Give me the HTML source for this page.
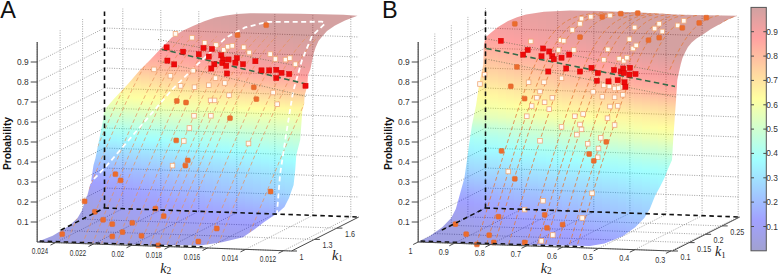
<!DOCTYPE html><html><head><meta charset="utf-8"><style>html,body{margin:0;padding:0;background:#fff;width:778px;height:276px;overflow:hidden}svg{display:block}</style></head><body><svg width="778" height="276" viewBox="0 0 778 276">
<style>.tk{font-family:"Liberation Sans",sans-serif;font-size:8.4px;fill:#333}</style>
<rect width="778" height="276" fill="#fff"/>
<line x1="37.2" y1="222.0" x2="104.5" y2="188.0" stroke="#8a8a8a" stroke-width="0.8" stroke-dasharray="1 1.4"/>
<line x1="104.5" y1="188.0" x2="358.8" y2="197.0" stroke="#8a8a8a" stroke-width="0.8" stroke-dasharray="1 1.4"/>
<line x1="37.2" y1="202.0" x2="104.5" y2="168.0" stroke="#8a8a8a" stroke-width="0.8" stroke-dasharray="1 1.4"/>
<line x1="104.5" y1="168.0" x2="358.8" y2="177.0" stroke="#8a8a8a" stroke-width="0.8" stroke-dasharray="1 1.4"/>
<line x1="37.2" y1="182.0" x2="104.5" y2="148.0" stroke="#8a8a8a" stroke-width="0.8" stroke-dasharray="1 1.4"/>
<line x1="104.5" y1="148.0" x2="358.8" y2="157.0" stroke="#8a8a8a" stroke-width="0.8" stroke-dasharray="1 1.4"/>
<line x1="37.2" y1="162.0" x2="104.5" y2="128.0" stroke="#8a8a8a" stroke-width="0.8" stroke-dasharray="1 1.4"/>
<line x1="104.5" y1="128.0" x2="358.8" y2="137.0" stroke="#8a8a8a" stroke-width="0.8" stroke-dasharray="1 1.4"/>
<line x1="37.2" y1="142.0" x2="104.5" y2="108.0" stroke="#8a8a8a" stroke-width="0.8" stroke-dasharray="1 1.4"/>
<line x1="104.5" y1="108.0" x2="358.8" y2="117.0" stroke="#8a8a8a" stroke-width="0.8" stroke-dasharray="1 1.4"/>
<line x1="37.2" y1="122.0" x2="104.5" y2="88.0" stroke="#8a8a8a" stroke-width="0.8" stroke-dasharray="1 1.4"/>
<line x1="104.5" y1="88.0" x2="358.8" y2="97.0" stroke="#8a8a8a" stroke-width="0.8" stroke-dasharray="1 1.4"/>
<line x1="37.2" y1="102.0" x2="104.5" y2="68.0" stroke="#8a8a8a" stroke-width="0.8" stroke-dasharray="1 1.4"/>
<line x1="104.5" y1="68.0" x2="358.8" y2="77.0" stroke="#8a8a8a" stroke-width="0.8" stroke-dasharray="1 1.4"/>
<line x1="37.2" y1="82.0" x2="104.5" y2="48.0" stroke="#8a8a8a" stroke-width="0.8" stroke-dasharray="1 1.4"/>
<line x1="104.5" y1="48.0" x2="358.8" y2="57.0" stroke="#8a8a8a" stroke-width="0.8" stroke-dasharray="1 1.4"/>
<line x1="37.2" y1="62.0" x2="104.5" y2="28.0" stroke="#8a8a8a" stroke-width="0.8" stroke-dasharray="1 1.4"/>
<line x1="104.5" y1="28.0" x2="358.8" y2="37.0" stroke="#8a8a8a" stroke-width="0.8" stroke-dasharray="1 1.4"/>
<line x1="37.2" y1="242.0" x2="37.2" y2="42.0" stroke="#8a8a8a" stroke-width="0.8" stroke-dasharray="1 1.4"/>
<line x1="37.2" y1="242.0" x2="291.5" y2="251.0" stroke="#8a8a8a" stroke-width="0.8" stroke-dasharray="1 1.4"/>
<line x1="60.1" y1="230.4" x2="60.1" y2="30.4" stroke="#8a8a8a" stroke-width="0.8" stroke-dasharray="1 1.4"/>
<line x1="60.1" y1="230.4" x2="314.4" y2="239.4" stroke="#8a8a8a" stroke-width="0.8" stroke-dasharray="1 1.4"/>
<line x1="82.6" y1="219.1" x2="82.6" y2="19.1" stroke="#8a8a8a" stroke-width="0.8" stroke-dasharray="1 1.4"/>
<line x1="82.6" y1="219.1" x2="336.9" y2="228.1" stroke="#8a8a8a" stroke-width="0.8" stroke-dasharray="1 1.4"/>
<line x1="122.8" y1="208.6" x2="122.8" y2="8.6" stroke="#8a8a8a" stroke-width="0.8" stroke-dasharray="1 1.4"/>
<line x1="55.5" y1="242.6" x2="122.8" y2="208.6" stroke="#8a8a8a" stroke-width="0.8" stroke-dasharray="1 1.4"/>
<line x1="160.8" y1="210.0" x2="160.8" y2="10.0" stroke="#8a8a8a" stroke-width="0.8" stroke-dasharray="1 1.4"/>
<line x1="93.5" y1="244.0" x2="160.8" y2="210.0" stroke="#8a8a8a" stroke-width="0.8" stroke-dasharray="1 1.4"/>
<line x1="198.8" y1="211.3" x2="198.8" y2="11.3" stroke="#8a8a8a" stroke-width="0.8" stroke-dasharray="1 1.4"/>
<line x1="131.5" y1="245.3" x2="198.8" y2="211.3" stroke="#8a8a8a" stroke-width="0.8" stroke-dasharray="1 1.4"/>
<line x1="236.8" y1="212.7" x2="236.8" y2="12.7" stroke="#8a8a8a" stroke-width="0.8" stroke-dasharray="1 1.4"/>
<line x1="169.5" y1="246.7" x2="236.8" y2="212.7" stroke="#8a8a8a" stroke-width="0.8" stroke-dasharray="1 1.4"/>
<line x1="274.8" y1="214.0" x2="274.8" y2="14.0" stroke="#8a8a8a" stroke-width="0.8" stroke-dasharray="1 1.4"/>
<line x1="207.5" y1="248.0" x2="274.8" y2="214.0" stroke="#8a8a8a" stroke-width="0.8" stroke-dasharray="1 1.4"/>
<line x1="312.8" y1="215.4" x2="312.8" y2="15.4" stroke="#8a8a8a" stroke-width="0.8" stroke-dasharray="1 1.4"/>
<line x1="245.5" y1="249.4" x2="312.8" y2="215.4" stroke="#8a8a8a" stroke-width="0.8" stroke-dasharray="1 1.4"/>
<line x1="350.8" y1="216.7" x2="350.8" y2="16.7" stroke="#8a8a8a" stroke-width="0.8" stroke-dasharray="1 1.4"/>
<line x1="283.5" y1="250.7" x2="350.8" y2="216.7" stroke="#8a8a8a" stroke-width="0.8" stroke-dasharray="1 1.4"/>
<defs><clipPath id="cA"><polygon points="37.0,242.0 52.7,235.8 69.2,225.7 77.6,218.0 81.9,210.5 85.2,200.3 87.5,195.0 91.3,180.0 93.5,165.0 95.5,158.0 103.1,120.0 104.3,110.0 113.8,99.0 127.5,84.5 140.0,70.0 150.5,59.5 160.9,48.5 171.7,37.6 182.6,30.7 193.5,25.7 204.3,21.3 215.2,17.6 226.0,15.4 237.0,14.1 250.0,13.3 300.0,13.7 343.5,14.8 357.5,15.8 345.0,20.5 335.0,25.5 327.0,31.0 322.6,35.9 318.5,41.0 315.5,47.8 313.5,54.0 312.3,60.0 310.3,69.5 308.0,75.0 307.4,86.0 304.7,95.0 304.0,105.0 302.4,110.0 301.3,125.0 300.2,140.0 296.3,155.0 295.2,170.0 293.6,185.0 289.0,198.0 284.4,207.0 277.0,213.5 264.5,221.7 253.6,230.0 243.0,237.2 222.0,242.3 200.0,245.4 150.0,245.0 100.0,243.5"/></clipPath></defs>
<defs><linearGradient id="sA0" gradientUnits="userSpaceOnUse" x1="0" y1="13" x2="0" y2="246"><stop offset="0" stop-color="#cf0000"/><stop offset="0.0455" stop-color="#eb0000"/><stop offset="0.0909" stop-color="#ff0100"/><stop offset="0.136" stop-color="#ff1c00"/><stop offset="0.182" stop-color="#ff3c00"/><stop offset="0.227" stop-color="#ff7b00"/><stop offset="0.273" stop-color="#ffcb00"/><stop offset="0.318" stop-color="#fcff03"/><stop offset="0.364" stop-color="#d1ff2e"/><stop offset="0.409" stop-color="#9fff60"/><stop offset="0.455" stop-color="#57ffa8"/><stop offset="0.5" stop-color="#0efff1"/><stop offset="0.545" stop-color="#00c9ff"/><stop offset="0.591" stop-color="#0086ff"/><stop offset="0.636" stop-color="#0051ff"/><stop offset="0.682" stop-color="#001bff"/><stop offset="0.727" stop-color="#0000ee"/><stop offset="0.773" stop-color="#0000ca"/><stop offset="0.818" stop-color="#0000b6"/><stop offset="0.864" stop-color="#0000b6"/><stop offset="0.909" stop-color="#0000b2"/><stop offset="0.955" stop-color="#0000b2"/><stop offset="1" stop-color="#0000b2"/></linearGradient><linearGradient id="sA1" gradientUnits="userSpaceOnUse" x1="0" y1="13" x2="0" y2="246"><stop offset="0" stop-color="#cf0000"/><stop offset="0.0455" stop-color="#eb0000"/><stop offset="0.0909" stop-color="#ff0100"/><stop offset="0.136" stop-color="#ff1c00"/><stop offset="0.182" stop-color="#ff3c00"/><stop offset="0.227" stop-color="#ff7b00"/><stop offset="0.273" stop-color="#ffcb00"/><stop offset="0.318" stop-color="#fcff03"/><stop offset="0.364" stop-color="#d1ff2e"/><stop offset="0.409" stop-color="#9fff60"/><stop offset="0.455" stop-color="#57ffa8"/><stop offset="0.5" stop-color="#0efff1"/><stop offset="0.545" stop-color="#00c9ff"/><stop offset="0.591" stop-color="#0086ff"/><stop offset="0.636" stop-color="#0051ff"/><stop offset="0.682" stop-color="#001bff"/><stop offset="0.727" stop-color="#0000ee"/><stop offset="0.773" stop-color="#0000ca"/><stop offset="0.818" stop-color="#0000b6"/><stop offset="0.864" stop-color="#0000b6"/><stop offset="0.909" stop-color="#0000b2"/><stop offset="0.955" stop-color="#0000b2"/><stop offset="1" stop-color="#0000b2"/></linearGradient><linearGradient id="sA2" gradientUnits="userSpaceOnUse" x1="0" y1="13" x2="0" y2="246"><stop offset="0" stop-color="#cf0000"/><stop offset="0.0455" stop-color="#eb0000"/><stop offset="0.0909" stop-color="#ff0100"/><stop offset="0.136" stop-color="#ff1c00"/><stop offset="0.182" stop-color="#ff3c00"/><stop offset="0.227" stop-color="#ff7b00"/><stop offset="0.273" stop-color="#ffcb00"/><stop offset="0.318" stop-color="#fcff03"/><stop offset="0.364" stop-color="#d1ff2e"/><stop offset="0.409" stop-color="#9fff60"/><stop offset="0.455" stop-color="#57ffa8"/><stop offset="0.5" stop-color="#0efff1"/><stop offset="0.545" stop-color="#00c9ff"/><stop offset="0.591" stop-color="#0086ff"/><stop offset="0.636" stop-color="#0051ff"/><stop offset="0.682" stop-color="#001bff"/><stop offset="0.727" stop-color="#0000ee"/><stop offset="0.773" stop-color="#0000ca"/><stop offset="0.818" stop-color="#0000b6"/><stop offset="0.864" stop-color="#0000b6"/><stop offset="0.909" stop-color="#0000b2"/><stop offset="0.955" stop-color="#0000b2"/><stop offset="1" stop-color="#0000b2"/></linearGradient><linearGradient id="sA3" gradientUnits="userSpaceOnUse" x1="0" y1="13" x2="0" y2="246"><stop offset="0" stop-color="#cf0000"/><stop offset="0.0455" stop-color="#eb0000"/><stop offset="0.0909" stop-color="#ff0100"/><stop offset="0.136" stop-color="#ff1c00"/><stop offset="0.182" stop-color="#ff3c00"/><stop offset="0.227" stop-color="#ff7b00"/><stop offset="0.273" stop-color="#ffcb00"/><stop offset="0.318" stop-color="#fcff03"/><stop offset="0.364" stop-color="#d1ff2e"/><stop offset="0.409" stop-color="#9fff60"/><stop offset="0.455" stop-color="#57ffa8"/><stop offset="0.5" stop-color="#0efff1"/><stop offset="0.545" stop-color="#00c9ff"/><stop offset="0.591" stop-color="#0086ff"/><stop offset="0.636" stop-color="#0051ff"/><stop offset="0.682" stop-color="#001bff"/><stop offset="0.727" stop-color="#0000ee"/><stop offset="0.773" stop-color="#0000ca"/><stop offset="0.818" stop-color="#0000b6"/><stop offset="0.864" stop-color="#0000b6"/><stop offset="0.909" stop-color="#0000b2"/><stop offset="0.955" stop-color="#0000b2"/><stop offset="1" stop-color="#0000b2"/></linearGradient><linearGradient id="sA4" gradientUnits="userSpaceOnUse" x1="0" y1="13" x2="0" y2="246"><stop offset="0" stop-color="#cf0000"/><stop offset="0.0455" stop-color="#eb0000"/><stop offset="0.0909" stop-color="#ff0100"/><stop offset="0.136" stop-color="#ff1c00"/><stop offset="0.182" stop-color="#ff3c00"/><stop offset="0.227" stop-color="#ff7b00"/><stop offset="0.273" stop-color="#ffcb00"/><stop offset="0.318" stop-color="#fcff03"/><stop offset="0.364" stop-color="#d1ff2e"/><stop offset="0.409" stop-color="#9fff60"/><stop offset="0.455" stop-color="#57ffa8"/><stop offset="0.5" stop-color="#0efff1"/><stop offset="0.545" stop-color="#00c9ff"/><stop offset="0.591" stop-color="#0086ff"/><stop offset="0.636" stop-color="#0051ff"/><stop offset="0.682" stop-color="#001bff"/><stop offset="0.727" stop-color="#0000ee"/><stop offset="0.773" stop-color="#0000ca"/><stop offset="0.818" stop-color="#0000b6"/><stop offset="0.864" stop-color="#0000b6"/><stop offset="0.909" stop-color="#0000b2"/><stop offset="0.955" stop-color="#0000b2"/><stop offset="1" stop-color="#0000b2"/></linearGradient><linearGradient id="sA5" gradientUnits="userSpaceOnUse" x1="0" y1="13" x2="0" y2="246"><stop offset="0" stop-color="#cd0000"/><stop offset="0.0455" stop-color="#e80000"/><stop offset="0.0909" stop-color="#fe0000"/><stop offset="0.136" stop-color="#ff1900"/><stop offset="0.182" stop-color="#ff3900"/><stop offset="0.227" stop-color="#ff7700"/><stop offset="0.273" stop-color="#ffc700"/><stop offset="0.318" stop-color="#fffd00"/><stop offset="0.364" stop-color="#d5ff2a"/><stop offset="0.409" stop-color="#a2ff5d"/><stop offset="0.455" stop-color="#5affa5"/><stop offset="0.5" stop-color="#11ffee"/><stop offset="0.545" stop-color="#00cdff"/><stop offset="0.591" stop-color="#008aff"/><stop offset="0.636" stop-color="#0055ff"/><stop offset="0.682" stop-color="#001fff"/><stop offset="0.727" stop-color="#0000f3"/><stop offset="0.773" stop-color="#0000cf"/><stop offset="0.818" stop-color="#0000ba"/><stop offset="0.864" stop-color="#0000b9"/><stop offset="0.909" stop-color="#0000b2"/><stop offset="0.955" stop-color="#0000b2"/><stop offset="1" stop-color="#0000b2"/></linearGradient><linearGradient id="sA6" gradientUnits="userSpaceOnUse" x1="0" y1="13" x2="0" y2="246"><stop offset="0" stop-color="#ca0000"/><stop offset="0.0455" stop-color="#e40000"/><stop offset="0.0909" stop-color="#fa0000"/><stop offset="0.136" stop-color="#ff1400"/><stop offset="0.182" stop-color="#ff3400"/><stop offset="0.227" stop-color="#ff7200"/><stop offset="0.273" stop-color="#ffbf00"/><stop offset="0.318" stop-color="#fff700"/><stop offset="0.364" stop-color="#daff25"/><stop offset="0.409" stop-color="#a6ff59"/><stop offset="0.455" stop-color="#5fffa0"/><stop offset="0.5" stop-color="#16ffe9"/><stop offset="0.545" stop-color="#00d2ff"/><stop offset="0.591" stop-color="#0090ff"/><stop offset="0.636" stop-color="#005bff"/><stop offset="0.682" stop-color="#0025ff"/><stop offset="0.727" stop-color="#0000fa"/><stop offset="0.773" stop-color="#0000d6"/><stop offset="0.818" stop-color="#0000c0"/><stop offset="0.864" stop-color="#0000bd"/><stop offset="0.909" stop-color="#0000b5"/><stop offset="0.955" stop-color="#0000b2"/><stop offset="1" stop-color="#0000b2"/></linearGradient><linearGradient id="sA7" gradientUnits="userSpaceOnUse" x1="0" y1="13" x2="0" y2="246"><stop offset="0" stop-color="#c70000"/><stop offset="0.0455" stop-color="#e00000"/><stop offset="0.0909" stop-color="#f50000"/><stop offset="0.136" stop-color="#ff1000"/><stop offset="0.182" stop-color="#ff3000"/><stop offset="0.227" stop-color="#ff6c00"/><stop offset="0.273" stop-color="#ffb800"/><stop offset="0.318" stop-color="#fff000"/><stop offset="0.364" stop-color="#dfff20"/><stop offset="0.409" stop-color="#aaff55"/><stop offset="0.455" stop-color="#63ff9c"/><stop offset="0.5" stop-color="#1bffe4"/><stop offset="0.545" stop-color="#00d8ff"/><stop offset="0.591" stop-color="#0096ff"/><stop offset="0.636" stop-color="#0062ff"/><stop offset="0.682" stop-color="#002cff"/><stop offset="0.727" stop-color="#0002ff"/><stop offset="0.773" stop-color="#0000dd"/><stop offset="0.818" stop-color="#0000c7"/><stop offset="0.864" stop-color="#0000c2"/><stop offset="0.909" stop-color="#0000b9"/><stop offset="0.955" stop-color="#0000b2"/><stop offset="1" stop-color="#0000b2"/></linearGradient><linearGradient id="sA8" gradientUnits="userSpaceOnUse" x1="0" y1="13" x2="0" y2="246"><stop offset="0" stop-color="#c30000"/><stop offset="0.0455" stop-color="#db0000"/><stop offset="0.0909" stop-color="#f10000"/><stop offset="0.136" stop-color="#ff0c00"/><stop offset="0.182" stop-color="#ff2b00"/><stop offset="0.227" stop-color="#ff6600"/><stop offset="0.273" stop-color="#ffb100"/><stop offset="0.318" stop-color="#ffe900"/><stop offset="0.364" stop-color="#e5ff1a"/><stop offset="0.409" stop-color="#aeff51"/><stop offset="0.455" stop-color="#68ff97"/><stop offset="0.5" stop-color="#21ffde"/><stop offset="0.545" stop-color="#00deff"/><stop offset="0.591" stop-color="#009cff"/><stop offset="0.636" stop-color="#0068ff"/><stop offset="0.682" stop-color="#0033ff"/><stop offset="0.727" stop-color="#0009ff"/><stop offset="0.773" stop-color="#0000e5"/><stop offset="0.818" stop-color="#0000cd"/><stop offset="0.864" stop-color="#0000c6"/><stop offset="0.909" stop-color="#0000bc"/><stop offset="0.955" stop-color="#0000b2"/><stop offset="1" stop-color="#0000b2"/></linearGradient><linearGradient id="sA9" gradientUnits="userSpaceOnUse" x1="0" y1="13" x2="0" y2="246"><stop offset="0" stop-color="#c00000"/><stop offset="0.0455" stop-color="#d70000"/><stop offset="0.0909" stop-color="#ed0000"/><stop offset="0.136" stop-color="#ff0700"/><stop offset="0.182" stop-color="#ff2600"/><stop offset="0.227" stop-color="#ff6000"/><stop offset="0.273" stop-color="#ffaa00"/><stop offset="0.318" stop-color="#ffe300"/><stop offset="0.364" stop-color="#eaff15"/><stop offset="0.409" stop-color="#b3ff4c"/><stop offset="0.455" stop-color="#6cff93"/><stop offset="0.5" stop-color="#26ffd9"/><stop offset="0.545" stop-color="#00e3ff"/><stop offset="0.591" stop-color="#00a2ff"/><stop offset="0.636" stop-color="#006eff"/><stop offset="0.682" stop-color="#0039ff"/><stop offset="0.727" stop-color="#0010ff"/><stop offset="0.773" stop-color="#0000ec"/><stop offset="0.818" stop-color="#0000d3"/><stop offset="0.864" stop-color="#0000ca"/><stop offset="0.909" stop-color="#0000bf"/><stop offset="0.955" stop-color="#0000b4"/><stop offset="1" stop-color="#0000b2"/></linearGradient><linearGradient id="sA10" gradientUnits="userSpaceOnUse" x1="0" y1="13" x2="0" y2="246"><stop offset="0" stop-color="#bc0000"/><stop offset="0.0455" stop-color="#d30000"/><stop offset="0.0909" stop-color="#e90000"/><stop offset="0.136" stop-color="#ff0300"/><stop offset="0.182" stop-color="#ff2100"/><stop offset="0.227" stop-color="#ff5a00"/><stop offset="0.273" stop-color="#ffa300"/><stop offset="0.318" stop-color="#ffdc00"/><stop offset="0.364" stop-color="#efff10"/><stop offset="0.409" stop-color="#b7ff48"/><stop offset="0.455" stop-color="#71ff8e"/><stop offset="0.5" stop-color="#2bffd4"/><stop offset="0.545" stop-color="#00e9ff"/><stop offset="0.591" stop-color="#00a8ff"/><stop offset="0.636" stop-color="#0074ff"/><stop offset="0.682" stop-color="#0040ff"/><stop offset="0.727" stop-color="#0018ff"/><stop offset="0.773" stop-color="#0000f4"/><stop offset="0.818" stop-color="#0000da"/><stop offset="0.864" stop-color="#0000cf"/><stop offset="0.909" stop-color="#0000c2"/><stop offset="0.955" stop-color="#0000b6"/><stop offset="1" stop-color="#0000b2"/></linearGradient><linearGradient id="sA11" gradientUnits="userSpaceOnUse" x1="0" y1="13" x2="0" y2="246"><stop offset="0" stop-color="#b90000"/><stop offset="0.0455" stop-color="#cf0000"/><stop offset="0.0909" stop-color="#e40000"/><stop offset="0.136" stop-color="#fd0000"/><stop offset="0.182" stop-color="#ff1c00"/><stop offset="0.227" stop-color="#ff5400"/><stop offset="0.273" stop-color="#ff9c00"/><stop offset="0.318" stop-color="#ffd500"/><stop offset="0.364" stop-color="#f5ff0a"/><stop offset="0.409" stop-color="#bbff44"/><stop offset="0.455" stop-color="#75ff8a"/><stop offset="0.5" stop-color="#30ffcf"/><stop offset="0.545" stop-color="#00eeff"/><stop offset="0.591" stop-color="#00aeff"/><stop offset="0.636" stop-color="#007bff"/><stop offset="0.682" stop-color="#0047ff"/><stop offset="0.727" stop-color="#001fff"/><stop offset="0.773" stop-color="#0000fb"/><stop offset="0.818" stop-color="#0000e0"/><stop offset="0.864" stop-color="#0000d3"/><stop offset="0.909" stop-color="#0000c5"/><stop offset="0.955" stop-color="#0000b8"/><stop offset="1" stop-color="#0000b2"/></linearGradient><linearGradient id="sA12" gradientUnits="userSpaceOnUse" x1="0" y1="13" x2="0" y2="246"><stop offset="0" stop-color="#b60000"/><stop offset="0.0455" stop-color="#cb0000"/><stop offset="0.0909" stop-color="#e00000"/><stop offset="0.136" stop-color="#f90000"/><stop offset="0.182" stop-color="#ff1700"/><stop offset="0.227" stop-color="#ff4e00"/><stop offset="0.273" stop-color="#ff9500"/><stop offset="0.318" stop-color="#ffcf00"/><stop offset="0.364" stop-color="#faff05"/><stop offset="0.409" stop-color="#bfff40"/><stop offset="0.455" stop-color="#7aff85"/><stop offset="0.5" stop-color="#36ffc9"/><stop offset="0.545" stop-color="#00f4ff"/><stop offset="0.591" stop-color="#00b4ff"/><stop offset="0.636" stop-color="#0081ff"/><stop offset="0.682" stop-color="#004dff"/><stop offset="0.727" stop-color="#0026ff"/><stop offset="0.773" stop-color="#0004ff"/><stop offset="0.818" stop-color="#0000e6"/><stop offset="0.864" stop-color="#0000d7"/><stop offset="0.909" stop-color="#0000c9"/><stop offset="0.955" stop-color="#0000ba"/><stop offset="1" stop-color="#0000b4"/></linearGradient><linearGradient id="sA13" gradientUnits="userSpaceOnUse" x1="0" y1="13" x2="0" y2="246"><stop offset="0" stop-color="#b20000"/><stop offset="0.0455" stop-color="#c60000"/><stop offset="0.0909" stop-color="#dc0000"/><stop offset="0.136" stop-color="#f40000"/><stop offset="0.182" stop-color="#ff1200"/><stop offset="0.227" stop-color="#ff4800"/><stop offset="0.273" stop-color="#ff8e00"/><stop offset="0.318" stop-color="#ffc800"/><stop offset="0.364" stop-color="#ffff00"/><stop offset="0.409" stop-color="#c4ff3b"/><stop offset="0.455" stop-color="#7eff81"/><stop offset="0.5" stop-color="#3bffc4"/><stop offset="0.545" stop-color="#00faff"/><stop offset="0.591" stop-color="#00bbff"/><stop offset="0.636" stop-color="#0087ff"/><stop offset="0.682" stop-color="#0054ff"/><stop offset="0.727" stop-color="#002dff"/><stop offset="0.773" stop-color="#000bff"/><stop offset="0.818" stop-color="#0000ed"/><stop offset="0.864" stop-color="#0000db"/><stop offset="0.909" stop-color="#0000cc"/><stop offset="0.955" stop-color="#0000bd"/><stop offset="1" stop-color="#0000b6"/></linearGradient><linearGradient id="sA14" gradientUnits="userSpaceOnUse" x1="0" y1="13" x2="0" y2="246"><stop offset="0" stop-color="#af0000"/><stop offset="0.0455" stop-color="#c20000"/><stop offset="0.0909" stop-color="#d80000"/><stop offset="0.136" stop-color="#f00000"/><stop offset="0.182" stop-color="#ff0d00"/><stop offset="0.227" stop-color="#ff4200"/><stop offset="0.273" stop-color="#ff8700"/><stop offset="0.318" stop-color="#ffc100"/><stop offset="0.364" stop-color="#fff900"/><stop offset="0.409" stop-color="#c8ff37"/><stop offset="0.455" stop-color="#83ff7c"/><stop offset="0.5" stop-color="#40ffbf"/><stop offset="0.545" stop-color="#00ffff"/><stop offset="0.591" stop-color="#00c1ff"/><stop offset="0.636" stop-color="#008dff"/><stop offset="0.682" stop-color="#005bff"/><stop offset="0.727" stop-color="#0034ff"/><stop offset="0.773" stop-color="#0013ff"/><stop offset="0.818" stop-color="#0000f3"/><stop offset="0.864" stop-color="#0000e0"/><stop offset="0.909" stop-color="#0000cf"/><stop offset="0.955" stop-color="#0000bf"/><stop offset="1" stop-color="#0000b8"/></linearGradient><linearGradient id="sA15" gradientUnits="userSpaceOnUse" x1="0" y1="13" x2="0" y2="246"><stop offset="0" stop-color="#ac0000"/><stop offset="0.0455" stop-color="#be0000"/><stop offset="0.0909" stop-color="#d30000"/><stop offset="0.136" stop-color="#ec0000"/><stop offset="0.182" stop-color="#ff0800"/><stop offset="0.227" stop-color="#ff3c00"/><stop offset="0.273" stop-color="#ff7f00"/><stop offset="0.318" stop-color="#ffbb00"/><stop offset="0.364" stop-color="#fff400"/><stop offset="0.409" stop-color="#ccff33"/><stop offset="0.455" stop-color="#87ff78"/><stop offset="0.5" stop-color="#45ffba"/><stop offset="0.545" stop-color="#06fff9"/><stop offset="0.591" stop-color="#00c7ff"/><stop offset="0.636" stop-color="#0094ff"/><stop offset="0.682" stop-color="#0061ff"/><stop offset="0.727" stop-color="#003cff"/><stop offset="0.773" stop-color="#001aff"/><stop offset="0.818" stop-color="#0000fa"/><stop offset="0.864" stop-color="#0000e4"/><stop offset="0.909" stop-color="#0000d2"/><stop offset="0.955" stop-color="#0000c1"/><stop offset="1" stop-color="#0000ba"/></linearGradient><linearGradient id="sA16" gradientUnits="userSpaceOnUse" x1="0" y1="13" x2="0" y2="246"><stop offset="0" stop-color="#a80000"/><stop offset="0.0455" stop-color="#ba0000"/><stop offset="0.0909" stop-color="#cf0000"/><stop offset="0.136" stop-color="#e70000"/><stop offset="0.182" stop-color="#ff0300"/><stop offset="0.227" stop-color="#ff3600"/><stop offset="0.273" stop-color="#ff7800"/><stop offset="0.318" stop-color="#ffb400"/><stop offset="0.364" stop-color="#ffef00"/><stop offset="0.409" stop-color="#d0ff2f"/><stop offset="0.455" stop-color="#8cff73"/><stop offset="0.5" stop-color="#4affb5"/><stop offset="0.545" stop-color="#0cfff3"/><stop offset="0.591" stop-color="#00cdff"/><stop offset="0.636" stop-color="#009aff"/><stop offset="0.682" stop-color="#0068ff"/><stop offset="0.727" stop-color="#0043ff"/><stop offset="0.773" stop-color="#0022ff"/><stop offset="0.818" stop-color="#0001ff"/><stop offset="0.864" stop-color="#0000e8"/><stop offset="0.909" stop-color="#0000d6"/><stop offset="0.955" stop-color="#0000c3"/><stop offset="1" stop-color="#0000bb"/></linearGradient><linearGradient id="sA17" gradientUnits="userSpaceOnUse" x1="0" y1="13" x2="0" y2="246"><stop offset="0" stop-color="#a50000"/><stop offset="0.0455" stop-color="#b50000"/><stop offset="0.0909" stop-color="#cb0000"/><stop offset="0.136" stop-color="#e30000"/><stop offset="0.182" stop-color="#fe0000"/><stop offset="0.227" stop-color="#ff3000"/><stop offset="0.273" stop-color="#ff7100"/><stop offset="0.318" stop-color="#ffad00"/><stop offset="0.364" stop-color="#ffea00"/><stop offset="0.409" stop-color="#d5ff2a"/><stop offset="0.455" stop-color="#90ff6f"/><stop offset="0.5" stop-color="#50ffaf"/><stop offset="0.545" stop-color="#11ffee"/><stop offset="0.591" stop-color="#00d3ff"/><stop offset="0.636" stop-color="#00a0ff"/><stop offset="0.682" stop-color="#006eff"/><stop offset="0.727" stop-color="#004aff"/><stop offset="0.773" stop-color="#0029ff"/><stop offset="0.818" stop-color="#0007ff"/><stop offset="0.864" stop-color="#0000ed"/><stop offset="0.909" stop-color="#0000d9"/><stop offset="0.955" stop-color="#0000c6"/><stop offset="1" stop-color="#0000bd"/></linearGradient><linearGradient id="sA18" gradientUnits="userSpaceOnUse" x1="0" y1="13" x2="0" y2="246"><stop offset="0" stop-color="#a10000"/><stop offset="0.0455" stop-color="#b10000"/><stop offset="0.0909" stop-color="#c70000"/><stop offset="0.136" stop-color="#de0000"/><stop offset="0.182" stop-color="#f90000"/><stop offset="0.227" stop-color="#ff2a00"/><stop offset="0.273" stop-color="#ff6a00"/><stop offset="0.318" stop-color="#ffa700"/><stop offset="0.364" stop-color="#ffe400"/><stop offset="0.409" stop-color="#d9ff26"/><stop offset="0.455" stop-color="#95ff6a"/><stop offset="0.5" stop-color="#55ffaa"/><stop offset="0.545" stop-color="#17ffe8"/><stop offset="0.591" stop-color="#00d9ff"/><stop offset="0.636" stop-color="#00a6ff"/><stop offset="0.682" stop-color="#0075ff"/><stop offset="0.727" stop-color="#0051ff"/><stop offset="0.773" stop-color="#0030ff"/><stop offset="0.818" stop-color="#000eff"/><stop offset="0.864" stop-color="#0000f1"/><stop offset="0.909" stop-color="#0000dc"/><stop offset="0.955" stop-color="#0000c8"/><stop offset="1" stop-color="#0000bf"/></linearGradient><linearGradient id="sA19" gradientUnits="userSpaceOnUse" x1="0" y1="13" x2="0" y2="246"><stop offset="0" stop-color="#9e0000"/><stop offset="0.0455" stop-color="#ad0000"/><stop offset="0.0909" stop-color="#c30000"/><stop offset="0.136" stop-color="#da0000"/><stop offset="0.182" stop-color="#f40000"/><stop offset="0.227" stop-color="#ff2400"/><stop offset="0.273" stop-color="#ff6300"/><stop offset="0.318" stop-color="#ffa000"/><stop offset="0.364" stop-color="#ffdf00"/><stop offset="0.409" stop-color="#ddff22"/><stop offset="0.455" stop-color="#99ff66"/><stop offset="0.5" stop-color="#5affa5"/><stop offset="0.545" stop-color="#1dffe2"/><stop offset="0.591" stop-color="#00dfff"/><stop offset="0.636" stop-color="#00adff"/><stop offset="0.682" stop-color="#007cff"/><stop offset="0.727" stop-color="#0058ff"/><stop offset="0.773" stop-color="#0038ff"/><stop offset="0.818" stop-color="#0014ff"/><stop offset="0.864" stop-color="#0000f5"/><stop offset="0.909" stop-color="#0000df"/><stop offset="0.955" stop-color="#0000ca"/><stop offset="1" stop-color="#0000c1"/></linearGradient><linearGradient id="sA20" gradientUnits="userSpaceOnUse" x1="0" y1="13" x2="0" y2="246"><stop offset="0" stop-color="#9b0000"/><stop offset="0.0455" stop-color="#a90000"/><stop offset="0.0909" stop-color="#be0000"/><stop offset="0.136" stop-color="#d50000"/><stop offset="0.182" stop-color="#ef0000"/><stop offset="0.227" stop-color="#ff1e00"/><stop offset="0.273" stop-color="#ff5c00"/><stop offset="0.318" stop-color="#ff9900"/><stop offset="0.364" stop-color="#ffda00"/><stop offset="0.409" stop-color="#e2ff1d"/><stop offset="0.455" stop-color="#9eff61"/><stop offset="0.5" stop-color="#5fffa0"/><stop offset="0.545" stop-color="#22ffdd"/><stop offset="0.591" stop-color="#00e5ff"/><stop offset="0.636" stop-color="#00b3ff"/><stop offset="0.682" stop-color="#0082ff"/><stop offset="0.727" stop-color="#0060ff"/><stop offset="0.773" stop-color="#003fff"/><stop offset="0.818" stop-color="#001bff"/><stop offset="0.864" stop-color="#0000fa"/><stop offset="0.909" stop-color="#0000e3"/><stop offset="0.955" stop-color="#0000cc"/><stop offset="1" stop-color="#0000c3"/></linearGradient><linearGradient id="sA21" gradientUnits="userSpaceOnUse" x1="0" y1="13" x2="0" y2="246"><stop offset="0" stop-color="#970000"/><stop offset="0.0455" stop-color="#a40000"/><stop offset="0.0909" stop-color="#ba0000"/><stop offset="0.136" stop-color="#d10000"/><stop offset="0.182" stop-color="#ea0000"/><stop offset="0.227" stop-color="#ff1800"/><stop offset="0.273" stop-color="#ff5500"/><stop offset="0.318" stop-color="#ff9300"/><stop offset="0.364" stop-color="#ffd400"/><stop offset="0.409" stop-color="#e6ff19"/><stop offset="0.455" stop-color="#a2ff5d"/><stop offset="0.5" stop-color="#64ff9b"/><stop offset="0.545" stop-color="#28ffd7"/><stop offset="0.591" stop-color="#00ebff"/><stop offset="0.636" stop-color="#00b9ff"/><stop offset="0.682" stop-color="#0089ff"/><stop offset="0.727" stop-color="#0067ff"/><stop offset="0.773" stop-color="#0047ff"/><stop offset="0.818" stop-color="#0021ff"/><stop offset="0.864" stop-color="#0000fe"/><stop offset="0.909" stop-color="#0000e6"/><stop offset="0.955" stop-color="#0000cf"/><stop offset="1" stop-color="#0000c4"/></linearGradient><linearGradient id="sA22" gradientUnits="userSpaceOnUse" x1="0" y1="13" x2="0" y2="246"><stop offset="0" stop-color="#940000"/><stop offset="0.0455" stop-color="#a00000"/><stop offset="0.0909" stop-color="#b60000"/><stop offset="0.136" stop-color="#cd0000"/><stop offset="0.182" stop-color="#e50000"/><stop offset="0.227" stop-color="#ff1200"/><stop offset="0.273" stop-color="#ff4e00"/><stop offset="0.318" stop-color="#ff8c00"/><stop offset="0.364" stop-color="#ffcf00"/><stop offset="0.409" stop-color="#eaff15"/><stop offset="0.455" stop-color="#a7ff58"/><stop offset="0.5" stop-color="#6aff95"/><stop offset="0.545" stop-color="#2effd1"/><stop offset="0.591" stop-color="#00f1ff"/><stop offset="0.636" stop-color="#00bfff"/><stop offset="0.682" stop-color="#0090ff"/><stop offset="0.727" stop-color="#006eff"/><stop offset="0.773" stop-color="#004eff"/><stop offset="0.818" stop-color="#0027ff"/><stop offset="0.864" stop-color="#0003ff"/><stop offset="0.909" stop-color="#0000e9"/><stop offset="0.955" stop-color="#0000d1"/><stop offset="1" stop-color="#0000c6"/></linearGradient><linearGradient id="sA23" gradientUnits="userSpaceOnUse" x1="0" y1="13" x2="0" y2="246"><stop offset="0" stop-color="#900000"/><stop offset="0.0455" stop-color="#9c0000"/><stop offset="0.0909" stop-color="#b20000"/><stop offset="0.136" stop-color="#c80000"/><stop offset="0.182" stop-color="#e00000"/><stop offset="0.227" stop-color="#ff0c00"/><stop offset="0.273" stop-color="#ff4700"/><stop offset="0.318" stop-color="#ff8500"/><stop offset="0.364" stop-color="#ffca00"/><stop offset="0.409" stop-color="#eeff11"/><stop offset="0.455" stop-color="#abff54"/><stop offset="0.5" stop-color="#6fff90"/><stop offset="0.545" stop-color="#33ffcc"/><stop offset="0.591" stop-color="#00f7ff"/><stop offset="0.636" stop-color="#00c6ff"/><stop offset="0.682" stop-color="#0096ff"/><stop offset="0.727" stop-color="#0075ff"/><stop offset="0.773" stop-color="#0056ff"/><stop offset="0.818" stop-color="#002eff"/><stop offset="0.864" stop-color="#0008ff"/><stop offset="0.909" stop-color="#0000ec"/><stop offset="0.955" stop-color="#0000d3"/><stop offset="1" stop-color="#0000c8"/></linearGradient><linearGradient id="sA24" gradientUnits="userSpaceOnUse" x1="0" y1="13" x2="0" y2="246"><stop offset="0" stop-color="#8d0000"/><stop offset="0.0455" stop-color="#980000"/><stop offset="0.0909" stop-color="#ad0000"/><stop offset="0.136" stop-color="#c40000"/><stop offset="0.182" stop-color="#db0000"/><stop offset="0.227" stop-color="#ff0600"/><stop offset="0.273" stop-color="#ff3f00"/><stop offset="0.318" stop-color="#ff7e00"/><stop offset="0.364" stop-color="#ffc400"/><stop offset="0.409" stop-color="#f3ff0c"/><stop offset="0.455" stop-color="#b0ff4f"/><stop offset="0.5" stop-color="#74ff8b"/><stop offset="0.545" stop-color="#39ffc6"/><stop offset="0.591" stop-color="#00fdff"/><stop offset="0.636" stop-color="#00ccff"/><stop offset="0.682" stop-color="#009dff"/><stop offset="0.727" stop-color="#007cff"/><stop offset="0.773" stop-color="#005dff"/><stop offset="0.818" stop-color="#0034ff"/><stop offset="0.864" stop-color="#000cff"/><stop offset="0.909" stop-color="#0000f0"/><stop offset="0.955" stop-color="#0000d5"/><stop offset="1" stop-color="#0000ca"/></linearGradient><linearGradient id="sA25" gradientUnits="userSpaceOnUse" x1="0" y1="13" x2="0" y2="246"><stop offset="0" stop-color="#8a0000"/><stop offset="0.0455" stop-color="#940000"/><stop offset="0.0909" stop-color="#a90000"/><stop offset="0.136" stop-color="#bf0000"/><stop offset="0.182" stop-color="#d60000"/><stop offset="0.227" stop-color="#ff0000"/><stop offset="0.273" stop-color="#ff3800"/><stop offset="0.318" stop-color="#ff7800"/><stop offset="0.364" stop-color="#ffbf00"/><stop offset="0.409" stop-color="#f7ff08"/><stop offset="0.455" stop-color="#b4ff4b"/><stop offset="0.5" stop-color="#79ff86"/><stop offset="0.545" stop-color="#3effc1"/><stop offset="0.591" stop-color="#04fffb"/><stop offset="0.636" stop-color="#00d2ff"/><stop offset="0.682" stop-color="#00a3ff"/><stop offset="0.727" stop-color="#0084ff"/><stop offset="0.773" stop-color="#0065ff"/><stop offset="0.818" stop-color="#003aff"/><stop offset="0.864" stop-color="#0010ff"/><stop offset="0.909" stop-color="#0000f3"/><stop offset="0.955" stop-color="#0000d7"/><stop offset="1" stop-color="#0000cc"/></linearGradient><linearGradient id="sA26" gradientUnits="userSpaceOnUse" x1="0" y1="13" x2="0" y2="246"><stop offset="0" stop-color="#8a0000"/><stop offset="0.0455" stop-color="#8f0000"/><stop offset="0.0909" stop-color="#a50000"/><stop offset="0.136" stop-color="#bb0000"/><stop offset="0.182" stop-color="#d10000"/><stop offset="0.227" stop-color="#f90000"/><stop offset="0.273" stop-color="#ff3100"/><stop offset="0.318" stop-color="#ff7100"/><stop offset="0.364" stop-color="#ffba00"/><stop offset="0.409" stop-color="#fbff04"/><stop offset="0.455" stop-color="#b9ff46"/><stop offset="0.5" stop-color="#7eff81"/><stop offset="0.545" stop-color="#44ffbb"/><stop offset="0.591" stop-color="#0afff5"/><stop offset="0.636" stop-color="#00d8ff"/><stop offset="0.682" stop-color="#00aaff"/><stop offset="0.727" stop-color="#008bff"/><stop offset="0.773" stop-color="#006cff"/><stop offset="0.818" stop-color="#0041ff"/><stop offset="0.864" stop-color="#0014ff"/><stop offset="0.909" stop-color="#0000f6"/><stop offset="0.955" stop-color="#0000da"/><stop offset="1" stop-color="#0000cd"/></linearGradient><linearGradient id="sA27" gradientUnits="userSpaceOnUse" x1="0" y1="13" x2="0" y2="246"><stop offset="0" stop-color="#8a0000"/><stop offset="0.0455" stop-color="#8b0000"/><stop offset="0.0909" stop-color="#a10000"/><stop offset="0.136" stop-color="#b60000"/><stop offset="0.182" stop-color="#cd0000"/><stop offset="0.227" stop-color="#f30000"/><stop offset="0.273" stop-color="#ff2a00"/><stop offset="0.318" stop-color="#ff6a00"/><stop offset="0.364" stop-color="#ffb400"/><stop offset="0.409" stop-color="#ffff00"/><stop offset="0.455" stop-color="#bdff42"/><stop offset="0.5" stop-color="#84ff7b"/><stop offset="0.545" stop-color="#4affb5"/><stop offset="0.591" stop-color="#10ffef"/><stop offset="0.636" stop-color="#00dfff"/><stop offset="0.682" stop-color="#00b1ff"/><stop offset="0.727" stop-color="#0092ff"/><stop offset="0.773" stop-color="#0073ff"/><stop offset="0.818" stop-color="#0047ff"/><stop offset="0.864" stop-color="#0019ff"/><stop offset="0.909" stop-color="#0000f9"/><stop offset="0.955" stop-color="#0000dc"/><stop offset="1" stop-color="#0000cf"/></linearGradient><linearGradient id="sA28" gradientUnits="userSpaceOnUse" x1="0" y1="13" x2="0" y2="246"><stop offset="0" stop-color="#8a0000"/><stop offset="0.0455" stop-color="#8a0000"/><stop offset="0.0909" stop-color="#9c0000"/><stop offset="0.136" stop-color="#b20000"/><stop offset="0.182" stop-color="#c80000"/><stop offset="0.227" stop-color="#ed0000"/><stop offset="0.273" stop-color="#ff2300"/><stop offset="0.318" stop-color="#ff6400"/><stop offset="0.364" stop-color="#ffaf00"/><stop offset="0.409" stop-color="#fffa00"/><stop offset="0.455" stop-color="#c2ff3d"/><stop offset="0.5" stop-color="#89ff76"/><stop offset="0.545" stop-color="#4fffb0"/><stop offset="0.591" stop-color="#16ffe9"/><stop offset="0.636" stop-color="#00e5ff"/><stop offset="0.682" stop-color="#00b7ff"/><stop offset="0.727" stop-color="#0099ff"/><stop offset="0.773" stop-color="#007bff"/><stop offset="0.818" stop-color="#004eff"/><stop offset="0.864" stop-color="#001dff"/><stop offset="0.909" stop-color="#0000fc"/><stop offset="0.955" stop-color="#0000de"/><stop offset="1" stop-color="#0000d1"/></linearGradient><linearGradient id="sA29" gradientUnits="userSpaceOnUse" x1="0" y1="13" x2="0" y2="246"><stop offset="0" stop-color="#8a0000"/><stop offset="0.0455" stop-color="#8a0000"/><stop offset="0.0909" stop-color="#980000"/><stop offset="0.136" stop-color="#ae0000"/><stop offset="0.182" stop-color="#c30000"/><stop offset="0.227" stop-color="#e70000"/><stop offset="0.273" stop-color="#ff1c00"/><stop offset="0.318" stop-color="#ff5d00"/><stop offset="0.364" stop-color="#ffaa00"/><stop offset="0.409" stop-color="#fff600"/><stop offset="0.455" stop-color="#c6ff39"/><stop offset="0.5" stop-color="#8eff71"/><stop offset="0.545" stop-color="#55ffaa"/><stop offset="0.591" stop-color="#1cffe3"/><stop offset="0.636" stop-color="#00ebff"/><stop offset="0.682" stop-color="#00beff"/><stop offset="0.727" stop-color="#00a0ff"/><stop offset="0.773" stop-color="#0082ff"/><stop offset="0.818" stop-color="#0054ff"/><stop offset="0.864" stop-color="#0021ff"/><stop offset="0.909" stop-color="#0001ff"/><stop offset="0.955" stop-color="#0000e0"/><stop offset="1" stop-color="#0000d3"/></linearGradient><linearGradient id="sA30" gradientUnits="userSpaceOnUse" x1="0" y1="13" x2="0" y2="246"><stop offset="0" stop-color="#8a0000"/><stop offset="0.0455" stop-color="#8a0000"/><stop offset="0.0909" stop-color="#940000"/><stop offset="0.136" stop-color="#a90000"/><stop offset="0.182" stop-color="#be0000"/><stop offset="0.227" stop-color="#e20000"/><stop offset="0.273" stop-color="#ff1500"/><stop offset="0.318" stop-color="#ff5600"/><stop offset="0.364" stop-color="#ffa400"/><stop offset="0.409" stop-color="#fff200"/><stop offset="0.455" stop-color="#cbff34"/><stop offset="0.5" stop-color="#93ff6c"/><stop offset="0.545" stop-color="#5bffa4"/><stop offset="0.591" stop-color="#22ffdd"/><stop offset="0.636" stop-color="#00f1ff"/><stop offset="0.682" stop-color="#00c5ff"/><stop offset="0.727" stop-color="#00a8ff"/><stop offset="0.773" stop-color="#008aff"/><stop offset="0.818" stop-color="#005aff"/><stop offset="0.864" stop-color="#0026ff"/><stop offset="0.909" stop-color="#0004ff"/><stop offset="0.955" stop-color="#0000e3"/><stop offset="1" stop-color="#0000d5"/></linearGradient><linearGradient id="sA31" gradientUnits="userSpaceOnUse" x1="0" y1="13" x2="0" y2="246"><stop offset="0" stop-color="#8a0000"/><stop offset="0.0455" stop-color="#8a0000"/><stop offset="0.0909" stop-color="#900000"/><stop offset="0.136" stop-color="#a50000"/><stop offset="0.182" stop-color="#b90000"/><stop offset="0.227" stop-color="#dc0000"/><stop offset="0.273" stop-color="#ff0e00"/><stop offset="0.318" stop-color="#ff5000"/><stop offset="0.364" stop-color="#ff9f00"/><stop offset="0.409" stop-color="#ffee00"/><stop offset="0.455" stop-color="#d0ff2f"/><stop offset="0.5" stop-color="#98ff67"/><stop offset="0.545" stop-color="#60ff9f"/><stop offset="0.591" stop-color="#29ffd6"/><stop offset="0.636" stop-color="#00f8ff"/><stop offset="0.682" stop-color="#00cbff"/><stop offset="0.727" stop-color="#00afff"/><stop offset="0.773" stop-color="#0091ff"/><stop offset="0.818" stop-color="#0061ff"/><stop offset="0.864" stop-color="#002aff"/><stop offset="0.909" stop-color="#0007ff"/><stop offset="0.955" stop-color="#0000e5"/><stop offset="1" stop-color="#0000d7"/></linearGradient><linearGradient id="sA32" gradientUnits="userSpaceOnUse" x1="0" y1="13" x2="0" y2="246"><stop offset="0" stop-color="#8a0000"/><stop offset="0.0455" stop-color="#8a0000"/><stop offset="0.0909" stop-color="#8c0000"/><stop offset="0.136" stop-color="#a00000"/><stop offset="0.182" stop-color="#b40000"/><stop offset="0.227" stop-color="#d60000"/><stop offset="0.273" stop-color="#ff0700"/><stop offset="0.318" stop-color="#ff4900"/><stop offset="0.364" stop-color="#ff9a00"/><stop offset="0.409" stop-color="#ffe900"/><stop offset="0.455" stop-color="#d4ff2b"/><stop offset="0.5" stop-color="#9eff61"/><stop offset="0.545" stop-color="#66ff99"/><stop offset="0.591" stop-color="#2fffd0"/><stop offset="0.636" stop-color="#00feff"/><stop offset="0.682" stop-color="#00d2ff"/><stop offset="0.727" stop-color="#00b6ff"/><stop offset="0.773" stop-color="#0099ff"/><stop offset="0.818" stop-color="#0067ff"/><stop offset="0.864" stop-color="#002eff"/><stop offset="0.909" stop-color="#000aff"/><stop offset="0.955" stop-color="#0000e7"/><stop offset="1" stop-color="#0000d8"/></linearGradient><linearGradient id="sA33" gradientUnits="userSpaceOnUse" x1="0" y1="13" x2="0" y2="246"><stop offset="0" stop-color="#8a0000"/><stop offset="0.0455" stop-color="#8a0000"/><stop offset="0.0909" stop-color="#8a0000"/><stop offset="0.136" stop-color="#9c0000"/><stop offset="0.182" stop-color="#af0000"/><stop offset="0.227" stop-color="#d00000"/><stop offset="0.273" stop-color="#fe0000"/><stop offset="0.318" stop-color="#ff4200"/><stop offset="0.364" stop-color="#ff9500"/><stop offset="0.409" stop-color="#ffe500"/><stop offset="0.455" stop-color="#d9ff26"/><stop offset="0.5" stop-color="#a3ff5c"/><stop offset="0.545" stop-color="#6cff93"/><stop offset="0.591" stop-color="#35ffca"/><stop offset="0.636" stop-color="#05fffa"/><stop offset="0.682" stop-color="#00d9ff"/><stop offset="0.727" stop-color="#00bdff"/><stop offset="0.773" stop-color="#00a0ff"/><stop offset="0.818" stop-color="#006eff"/><stop offset="0.864" stop-color="#0033ff"/><stop offset="0.909" stop-color="#000eff"/><stop offset="0.955" stop-color="#0000e9"/><stop offset="1" stop-color="#0000da"/></linearGradient><linearGradient id="sA34" gradientUnits="userSpaceOnUse" x1="0" y1="13" x2="0" y2="246"><stop offset="0" stop-color="#8a0000"/><stop offset="0.0455" stop-color="#8a0000"/><stop offset="0.0909" stop-color="#8a0000"/><stop offset="0.136" stop-color="#970000"/><stop offset="0.182" stop-color="#aa0000"/><stop offset="0.227" stop-color="#ca0000"/><stop offset="0.273" stop-color="#f70000"/><stop offset="0.318" stop-color="#ff3c00"/><stop offset="0.364" stop-color="#ff8f00"/><stop offset="0.409" stop-color="#ffe100"/><stop offset="0.455" stop-color="#ddff22"/><stop offset="0.5" stop-color="#a8ff57"/><stop offset="0.545" stop-color="#71ff8e"/><stop offset="0.591" stop-color="#3bffc4"/><stop offset="0.636" stop-color="#0bfff4"/><stop offset="0.682" stop-color="#00dfff"/><stop offset="0.727" stop-color="#00c4ff"/><stop offset="0.773" stop-color="#00a8ff"/><stop offset="0.818" stop-color="#0074ff"/><stop offset="0.864" stop-color="#0037ff"/><stop offset="0.909" stop-color="#0011ff"/><stop offset="0.955" stop-color="#0000ec"/><stop offset="1" stop-color="#0000dc"/></linearGradient><linearGradient id="sA35" gradientUnits="userSpaceOnUse" x1="0" y1="13" x2="0" y2="246"><stop offset="0" stop-color="#8a0000"/><stop offset="0.0455" stop-color="#8a0000"/><stop offset="0.0909" stop-color="#8a0000"/><stop offset="0.136" stop-color="#940000"/><stop offset="0.182" stop-color="#a70000"/><stop offset="0.227" stop-color="#c50000"/><stop offset="0.273" stop-color="#f20000"/><stop offset="0.318" stop-color="#ff3700"/><stop offset="0.364" stop-color="#ff8b00"/><stop offset="0.409" stop-color="#ffde00"/><stop offset="0.455" stop-color="#e0ff1f"/><stop offset="0.5" stop-color="#acff53"/><stop offset="0.545" stop-color="#76ff89"/><stop offset="0.591" stop-color="#3fffc0"/><stop offset="0.636" stop-color="#10ffef"/><stop offset="0.682" stop-color="#00e4ff"/><stop offset="0.727" stop-color="#00caff"/><stop offset="0.773" stop-color="#00adff"/><stop offset="0.818" stop-color="#0079ff"/><stop offset="0.864" stop-color="#003aff"/><stop offset="0.909" stop-color="#0013ff"/><stop offset="0.955" stop-color="#0000ed"/><stop offset="1" stop-color="#0000dd"/></linearGradient><linearGradient id="sA36" gradientUnits="userSpaceOnUse" x1="0" y1="13" x2="0" y2="246"><stop offset="0" stop-color="#8a0000"/><stop offset="0.0455" stop-color="#8a0000"/><stop offset="0.0909" stop-color="#8a0000"/><stop offset="0.136" stop-color="#940000"/><stop offset="0.182" stop-color="#a70000"/><stop offset="0.227" stop-color="#c50000"/><stop offset="0.273" stop-color="#f20000"/><stop offset="0.318" stop-color="#ff3700"/><stop offset="0.364" stop-color="#ff8b00"/><stop offset="0.409" stop-color="#ffde00"/><stop offset="0.455" stop-color="#e0ff1f"/><stop offset="0.5" stop-color="#acff53"/><stop offset="0.545" stop-color="#76ff89"/><stop offset="0.591" stop-color="#3fffc0"/><stop offset="0.636" stop-color="#10ffef"/><stop offset="0.682" stop-color="#00e4ff"/><stop offset="0.727" stop-color="#00caff"/><stop offset="0.773" stop-color="#00adff"/><stop offset="0.818" stop-color="#0079ff"/><stop offset="0.864" stop-color="#003aff"/><stop offset="0.909" stop-color="#0013ff"/><stop offset="0.955" stop-color="#0000ed"/><stop offset="1" stop-color="#0000dd"/></linearGradient><linearGradient id="sA37" gradientUnits="userSpaceOnUse" x1="0" y1="13" x2="0" y2="246"><stop offset="0" stop-color="#8a0000"/><stop offset="0.0455" stop-color="#8a0000"/><stop offset="0.0909" stop-color="#8a0000"/><stop offset="0.136" stop-color="#940000"/><stop offset="0.182" stop-color="#a70000"/><stop offset="0.227" stop-color="#c50000"/><stop offset="0.273" stop-color="#f20000"/><stop offset="0.318" stop-color="#ff3700"/><stop offset="0.364" stop-color="#ff8b00"/><stop offset="0.409" stop-color="#ffde00"/><stop offset="0.455" stop-color="#e0ff1f"/><stop offset="0.5" stop-color="#acff53"/><stop offset="0.545" stop-color="#76ff89"/><stop offset="0.591" stop-color="#3fffc0"/><stop offset="0.636" stop-color="#10ffef"/><stop offset="0.682" stop-color="#00e4ff"/><stop offset="0.727" stop-color="#00caff"/><stop offset="0.773" stop-color="#00adff"/><stop offset="0.818" stop-color="#0079ff"/><stop offset="0.864" stop-color="#003aff"/><stop offset="0.909" stop-color="#0013ff"/><stop offset="0.955" stop-color="#0000ed"/><stop offset="1" stop-color="#0000dd"/></linearGradient><linearGradient id="sA38" gradientUnits="userSpaceOnUse" x1="0" y1="13" x2="0" y2="246"><stop offset="0" stop-color="#8a0000"/><stop offset="0.0455" stop-color="#8a0000"/><stop offset="0.0909" stop-color="#8a0000"/><stop offset="0.136" stop-color="#940000"/><stop offset="0.182" stop-color="#a70000"/><stop offset="0.227" stop-color="#c50000"/><stop offset="0.273" stop-color="#f20000"/><stop offset="0.318" stop-color="#ff3700"/><stop offset="0.364" stop-color="#ff8b00"/><stop offset="0.409" stop-color="#ffde00"/><stop offset="0.455" stop-color="#e0ff1f"/><stop offset="0.5" stop-color="#acff53"/><stop offset="0.545" stop-color="#76ff89"/><stop offset="0.591" stop-color="#3fffc0"/><stop offset="0.636" stop-color="#10ffef"/><stop offset="0.682" stop-color="#00e4ff"/><stop offset="0.727" stop-color="#00caff"/><stop offset="0.773" stop-color="#00adff"/><stop offset="0.818" stop-color="#0079ff"/><stop offset="0.864" stop-color="#003aff"/><stop offset="0.909" stop-color="#0013ff"/><stop offset="0.955" stop-color="#0000ed"/><stop offset="1" stop-color="#0000dd"/></linearGradient><linearGradient id="sA39" gradientUnits="userSpaceOnUse" x1="0" y1="13" x2="0" y2="246"><stop offset="0" stop-color="#8a0000"/><stop offset="0.0455" stop-color="#8a0000"/><stop offset="0.0909" stop-color="#8a0000"/><stop offset="0.136" stop-color="#940000"/><stop offset="0.182" stop-color="#a70000"/><stop offset="0.227" stop-color="#c50000"/><stop offset="0.273" stop-color="#f20000"/><stop offset="0.318" stop-color="#ff3700"/><stop offset="0.364" stop-color="#ff8b00"/><stop offset="0.409" stop-color="#ffde00"/><stop offset="0.455" stop-color="#e0ff1f"/><stop offset="0.5" stop-color="#acff53"/><stop offset="0.545" stop-color="#76ff89"/><stop offset="0.591" stop-color="#3fffc0"/><stop offset="0.636" stop-color="#10ffef"/><stop offset="0.682" stop-color="#00e4ff"/><stop offset="0.727" stop-color="#00caff"/><stop offset="0.773" stop-color="#00adff"/><stop offset="0.818" stop-color="#0079ff"/><stop offset="0.864" stop-color="#003aff"/><stop offset="0.909" stop-color="#0013ff"/><stop offset="0.955" stop-color="#0000ed"/><stop offset="1" stop-color="#0000dd"/></linearGradient><linearGradient id="sA40" gradientUnits="userSpaceOnUse" x1="0" y1="13" x2="0" y2="246"><stop offset="0" stop-color="#8a0000"/><stop offset="0.0455" stop-color="#8a0000"/><stop offset="0.0909" stop-color="#8a0000"/><stop offset="0.136" stop-color="#940000"/><stop offset="0.182" stop-color="#a70000"/><stop offset="0.227" stop-color="#c50000"/><stop offset="0.273" stop-color="#f20000"/><stop offset="0.318" stop-color="#ff3700"/><stop offset="0.364" stop-color="#ff8b00"/><stop offset="0.409" stop-color="#ffde00"/><stop offset="0.455" stop-color="#e0ff1f"/><stop offset="0.5" stop-color="#acff53"/><stop offset="0.545" stop-color="#76ff89"/><stop offset="0.591" stop-color="#3fffc0"/><stop offset="0.636" stop-color="#10ffef"/><stop offset="0.682" stop-color="#00e4ff"/><stop offset="0.727" stop-color="#00caff"/><stop offset="0.773" stop-color="#00adff"/><stop offset="0.818" stop-color="#0079ff"/><stop offset="0.864" stop-color="#003aff"/><stop offset="0.909" stop-color="#0013ff"/><stop offset="0.955" stop-color="#0000ed"/><stop offset="1" stop-color="#0000dd"/></linearGradient></defs><g clip-path="url(#cA)" opacity="0.370"><rect x="37" y="13" width="8" height="233" fill="url(#sA0)"/><rect x="45" y="13" width="8" height="233" fill="url(#sA1)"/><rect x="53" y="13" width="8" height="233" fill="url(#sA2)"/><rect x="61" y="13" width="8" height="233" fill="url(#sA3)"/><rect x="69" y="13" width="8" height="233" fill="url(#sA4)"/><rect x="77" y="13" width="8" height="233" fill="url(#sA5)"/><rect x="85" y="13" width="8" height="233" fill="url(#sA6)"/><rect x="93" y="13" width="8" height="233" fill="url(#sA7)"/><rect x="101" y="13" width="8" height="233" fill="url(#sA8)"/><rect x="109" y="13" width="8" height="233" fill="url(#sA9)"/><rect x="117" y="13" width="8" height="233" fill="url(#sA10)"/><rect x="125" y="13" width="8" height="233" fill="url(#sA11)"/><rect x="133" y="13" width="8" height="233" fill="url(#sA12)"/><rect x="141" y="13" width="8" height="233" fill="url(#sA13)"/><rect x="149" y="13" width="8" height="233" fill="url(#sA14)"/><rect x="157" y="13" width="8" height="233" fill="url(#sA15)"/><rect x="165" y="13" width="8" height="233" fill="url(#sA16)"/><rect x="173" y="13" width="8" height="233" fill="url(#sA17)"/><rect x="181" y="13" width="8" height="233" fill="url(#sA18)"/><rect x="189" y="13" width="8" height="233" fill="url(#sA19)"/><rect x="197" y="13" width="8" height="233" fill="url(#sA20)"/><rect x="205" y="13" width="8" height="233" fill="url(#sA21)"/><rect x="213" y="13" width="8" height="233" fill="url(#sA22)"/><rect x="221" y="13" width="8" height="233" fill="url(#sA23)"/><rect x="229" y="13" width="8" height="233" fill="url(#sA24)"/><rect x="237" y="13" width="8" height="233" fill="url(#sA25)"/><rect x="245" y="13" width="8" height="233" fill="url(#sA26)"/><rect x="253" y="13" width="8" height="233" fill="url(#sA27)"/><rect x="261" y="13" width="8" height="233" fill="url(#sA28)"/><rect x="269" y="13" width="8" height="233" fill="url(#sA29)"/><rect x="277" y="13" width="8" height="233" fill="url(#sA30)"/><rect x="285" y="13" width="8" height="233" fill="url(#sA31)"/><rect x="293" y="13" width="8" height="233" fill="url(#sA32)"/><rect x="301" y="13" width="8" height="233" fill="url(#sA33)"/><rect x="309" y="13" width="8" height="233" fill="url(#sA34)"/><rect x="317" y="13" width="8" height="233" fill="url(#sA35)"/><rect x="325" y="13" width="8" height="233" fill="url(#sA36)"/><rect x="333" y="13" width="8" height="233" fill="url(#sA37)"/><rect x="341" y="13" width="8" height="233" fill="url(#sA38)"/><rect x="349" y="13" width="8" height="233" fill="url(#sA39)"/><rect x="357" y="13" width="8" height="233" fill="url(#sA40)"/></g>
<g clip-path="url(#cA)" stroke="#e8905a" stroke-width="1" stroke-dasharray="4 2.6" stroke-opacity="0.70" fill="none">
<polyline points="54.5,250.9 58.5,241.2 62.4,231.5 66.4,221.8 70.3,212.2 74.3,202.6 78.3,193.0 82.2,183.4 86.2,173.8 90.2,164.3 94.1,154.9 98.1,145.5 102.0,136.2 106.0,127.1 110.0,118.0 113.9,109.2 117.9,100.5 121.8,92.2 125.8,84.1 129.8,76.4 133.7,69.1 137.7,62.2 141.7,55.9 145.6,50.2 149.6,45.1 153.5,40.5 157.5,36.6"/>
<polyline points="63.5,250.9 67.5,241.2 71.4,231.5 75.4,221.8 79.3,212.2 83.3,202.6 87.3,193.0 91.2,183.4 95.2,173.8 99.2,164.3 103.1,154.9 107.1,145.5 111.0,136.2 115.0,127.1 119.0,118.0 122.9,109.2 126.9,100.5 130.8,92.2 134.8,84.1 138.8,76.4 142.7,69.1 146.7,62.2 150.7,55.9 154.6,50.2 158.6,45.1 162.5,40.5 166.5,36.6"/>
<polyline points="79.5,250.9 83.5,241.2 87.4,231.5 91.4,221.8 95.3,212.2 99.3,202.6 103.3,193.0 107.2,183.4 111.2,173.8 115.2,164.3 119.1,154.9 123.1,145.5 127.0,136.2 131.0,127.1 135.0,118.0 138.9,109.2 142.9,100.5 146.8,92.2 150.8,84.1 154.8,76.4 158.7,69.1 162.7,62.2 166.7,55.9 170.6,50.2 174.6,45.1 178.5,40.5 182.5,36.6"/>
<polyline points="89.5,250.9 93.5,241.2 97.4,231.5 101.4,221.8 105.3,212.2 109.3,202.6 113.3,193.0 117.2,183.4 121.2,173.8 125.2,164.3 129.1,154.9 133.1,145.5 137.0,136.2 141.0,127.1 145.0,118.0 148.9,109.2 152.9,100.5 156.8,92.2 160.8,84.1 164.8,76.4 168.7,69.1 172.7,62.2 176.7,55.9 180.6,50.2 184.6,45.1 188.5,40.5 192.5,36.6"/>
<polyline points="98.5,250.9 102.5,241.2 106.4,231.5 110.4,221.8 114.3,212.2 118.3,202.6 122.3,193.0 126.2,183.4 130.2,173.8 134.2,164.3 138.1,154.9 142.1,145.5 146.0,136.2 150.0,127.1 154.0,118.0 157.9,109.2 161.9,100.5 165.8,92.2 169.8,84.1 173.8,76.4 177.7,69.1 181.7,62.2 185.7,55.9 189.6,50.2 193.6,45.1 197.5,40.5 201.5,36.6"/>
<polyline points="113.5,250.9 117.5,241.2 121.4,231.5 125.4,221.8 129.3,212.2 133.3,202.6 137.3,193.0 141.2,183.4 145.2,173.8 149.2,164.3 153.1,154.9 157.1,145.5 161.0,136.2 165.0,127.1 169.0,118.0 172.9,109.2 176.9,100.5 180.8,92.2 184.8,84.1 188.8,76.4 192.7,69.1 196.7,62.2 200.7,55.9 204.6,50.2 208.6,45.1 212.5,40.5 216.5,36.6"/>
<polyline points="125.5,250.9 129.5,241.2 133.4,231.5 137.4,221.8 141.3,212.2 145.3,202.6 149.3,193.0 153.2,183.4 157.2,173.8 161.2,164.3 165.1,154.9 169.1,145.5 173.0,136.2 177.0,127.1 181.0,118.0 184.9,109.2 188.9,100.5 192.8,92.2 196.8,84.1 200.8,76.4 204.7,69.1 208.7,62.2 212.7,55.9 216.6,50.2 220.6,45.1 224.5,40.5 228.5,36.6"/>
<polyline points="137.5,250.9 141.5,241.2 145.4,231.5 149.4,221.8 153.3,212.2 157.3,202.6 161.3,193.0 165.2,183.4 169.2,173.8 173.2,164.3 177.1,154.9 181.1,145.5 185.0,136.2 189.0,127.1 193.0,118.0 196.9,109.2 200.9,100.5 204.8,92.2 208.8,84.1 212.8,76.4 216.7,69.1 220.7,62.2 224.7,55.9 228.6,50.2 232.6,45.1 236.5,40.5 240.5,36.6"/>
<polyline points="147.5,250.9 151.5,241.2 155.4,231.5 159.4,221.8 163.3,212.2 167.3,202.6 171.3,193.0 175.2,183.4 179.2,173.8 183.2,164.3 187.1,154.9 191.1,145.5 195.0,136.2 199.0,127.1 203.0,118.0 206.9,109.2 210.9,100.5 214.8,92.2 218.8,84.1 222.8,76.4 226.7,69.1 230.7,62.2 234.7,55.9 238.6,50.2 242.6,45.1 246.5,40.5 250.5,36.6"/>
<polyline points="155.5,250.9 159.5,241.2 163.4,231.5 167.4,221.8 171.3,212.2 175.3,202.6 179.3,193.0 183.2,183.4 187.2,173.8 191.2,164.3 195.1,154.9 199.1,145.5 203.0,136.2 207.0,127.1 211.0,118.0 214.9,109.2 218.9,100.5 222.8,92.2 226.8,84.1 230.8,76.4 234.7,69.1 238.7,62.2 242.7,55.9 246.6,50.2 250.6,45.1 254.5,40.5 258.5,36.6"/>
<polyline points="164.5,250.9 168.5,241.2 172.4,231.5 176.4,221.8 180.3,212.2 184.3,202.6 188.3,193.0 192.2,183.4 196.2,173.8 200.2,164.3 204.1,154.9 208.1,145.5 212.0,136.2 216.0,127.1 220.0,118.0 223.9,109.2 227.9,100.5 231.8,92.2 235.8,84.1 239.8,76.4 243.7,69.1 247.7,62.2 251.7,55.9 255.6,50.2 259.6,45.1 263.5,40.5 267.5,36.6"/>
<polyline points="173.5,250.9 177.5,241.2 181.4,231.5 185.4,221.8 189.3,212.2 193.3,202.6 197.3,193.0 201.2,183.4 205.2,173.8 209.2,164.3 213.1,154.9 217.1,145.5 221.0,136.2 225.0,127.1 229.0,118.0 232.9,109.2 236.9,100.5 240.8,92.2 244.8,84.1 248.8,76.4 252.7,69.1 256.7,62.2 260.7,55.9 264.6,50.2 268.6,45.1 272.5,40.5 276.5,36.6"/>
<polyline points="189.5,250.9 193.5,241.2 197.4,231.5 201.4,221.8 205.3,212.2 209.3,202.6 213.3,193.0 217.2,183.4 221.2,173.8 225.2,164.3 229.1,154.9 233.1,145.5 237.0,136.2 241.0,127.1 245.0,118.0 248.9,109.2 252.9,100.5 256.8,92.2 260.8,84.1 264.8,76.4 268.7,69.1 272.7,62.2 276.7,55.9 280.6,50.2 284.6,45.1 288.5,40.5 292.5,36.6"/>
<polyline points="204.5,250.9 208.5,241.2 212.4,231.5 216.4,221.8 220.3,212.2 224.3,202.6 228.3,193.0 232.2,183.4 236.2,173.8 240.2,164.3 244.1,154.9 248.1,145.5 252.0,136.2 256.0,127.1 260.0,118.0 263.9,109.2 267.9,100.5 271.8,92.2 275.8,84.1 279.8,76.4 283.7,69.1 287.7,62.2 291.7,55.9 295.6,50.2 299.6,45.1 303.5,40.5 307.5,36.6"/>
<polyline points="215.5,250.9 219.5,241.2 223.4,231.5 227.4,221.8 231.3,212.2 235.3,202.6 239.3,193.0 243.2,183.4 247.2,173.8 251.2,164.3 255.1,154.9 259.1,145.5 263.0,136.2 267.0,127.1 271.0,118.0 274.9,109.2 278.9,100.5 282.8,92.2 286.8,84.1 290.8,76.4 294.7,69.1 298.7,62.2 302.7,55.9 306.6,50.2 310.6,45.1 314.5,40.5 318.5,36.6"/>
<polyline points="242.5,250.9 246.5,241.2 250.4,231.5 254.4,221.8 258.3,212.2 262.3,202.6 266.3,193.0 270.2,183.4 274.2,173.8 278.2,164.3 282.1,154.9 286.1,145.5 290.0,136.2 294.0,127.1 298.0,118.0 301.9,109.2 305.9,100.5 309.8,92.2 313.8,84.1 317.8,76.4 321.7,69.1 325.7,62.2 329.7,55.9 333.6,50.2 337.6,45.1 341.5,40.5 345.5,36.6"/>
</g>
<polyline points="88.0,185.0 106.0,166.5 140.0,127.0 173.0,88.5 200.0,62.0 226.0,37.7 245.0,27.4 267.0,22.0 322.0,21.7 325.0,23.5 312.0,36.0 302.0,60.0 293.0,92.0 286.0,135.0 280.0,175.0 277.0,213.0" fill="none" stroke="#fff" stroke-width="1.8" stroke-dasharray="5 3.5" stroke-linecap="butt"/>
<polyline points="158.0,39.5 306.0,67.5" fill="none" stroke="#6a6a4a" stroke-width="0.9" stroke-dasharray="1 1.6" stroke-opacity="0.8"/>
<polyline points="158.0,61.0 306.0,96.5" fill="none" stroke="#6a6a4a" stroke-width="0.9" stroke-dasharray="1 1.6" stroke-opacity="0.8"/>
<polyline points="161.6,49.2 306.0,84.0" fill="none" stroke="#356a48" stroke-width="1.6" stroke-dasharray="5.5 3.5"/>
<rect x="173.2" y="31.6" width="4.6" height="4.6" fill="#fffaf2" stroke="#f0a878" stroke-width="0.8"/>
<rect x="189.7" y="35.4" width="4.6" height="4.6" fill="#fffaf2" stroke="#f0a878" stroke-width="0.8"/>
<rect x="202.4" y="40.5" width="4.6" height="4.6" fill="#fffaf2" stroke="#f0a878" stroke-width="0.8"/>
<rect x="213.7" y="42.7" width="4.6" height="4.6" fill="#fffaf2" stroke="#f0a878" stroke-width="0.8"/>
<rect x="221.4" y="47.6" width="4.6" height="4.6" fill="#fffaf2" stroke="#f0a878" stroke-width="0.8"/>
<rect x="151.7" y="67.1" width="4.6" height="4.6" fill="#fffaf2" stroke="#f0a878" stroke-width="0.8"/>
<rect x="168.1" y="73.5" width="4.6" height="4.6" fill="#fffaf2" stroke="#f0a878" stroke-width="0.8"/>
<rect x="190.9" y="68.4" width="4.6" height="4.6" fill="#fffaf2" stroke="#f0a878" stroke-width="0.8"/>
<rect x="213.2" y="75.8" width="4.6" height="4.6" fill="#fffaf2" stroke="#f0a878" stroke-width="0.8"/>
<rect x="178.3" y="83.6" width="4.6" height="4.6" fill="#fffaf2" stroke="#f0a878" stroke-width="0.8"/>
<rect x="192.2" y="84.9" width="4.6" height="4.6" fill="#fffaf2" stroke="#f0a878" stroke-width="0.8"/>
<rect x="206.5" y="82.9" width="4.6" height="4.6" fill="#fffaf2" stroke="#f0a878" stroke-width="0.8"/>
<rect x="222.5" y="80.7" width="4.6" height="4.6" fill="#fffaf2" stroke="#f0a878" stroke-width="0.8"/>
<rect x="225.4" y="44.4" width="4.6" height="4.6" fill="#fffaf2" stroke="#f0a878" stroke-width="0.8"/>
<rect x="230.0" y="43.5" width="4.6" height="4.6" fill="#fffaf2" stroke="#f0a878" stroke-width="0.8"/>
<rect x="241.4" y="45.0" width="4.6" height="4.6" fill="#fffaf2" stroke="#f0a878" stroke-width="0.8"/>
<rect x="246.9" y="50.2" width="4.6" height="4.6" fill="#fffaf2" stroke="#f0a878" stroke-width="0.8"/>
<rect x="267.9" y="51.8" width="4.6" height="4.6" fill="#fffaf2" stroke="#f0a878" stroke-width="0.8"/>
<rect x="283.2" y="57.3" width="4.6" height="4.6" fill="#fffaf2" stroke="#f0a878" stroke-width="0.8"/>
<rect x="287.5" y="55.8" width="4.6" height="4.6" fill="#fffaf2" stroke="#f0a878" stroke-width="0.8"/>
<rect x="273.1" y="56.7" width="4.6" height="4.6" fill="#fffaf2" stroke="#f0a878" stroke-width="0.8"/>
<rect x="293.1" y="61.9" width="4.6" height="4.6" fill="#fffaf2" stroke="#f0a878" stroke-width="0.8"/>
<rect x="208.3" y="98.1" width="4.6" height="4.6" fill="#fffaf2" stroke="#f0a878" stroke-width="0.8"/>
<rect x="212.3" y="98.1" width="4.6" height="4.6" fill="#fffaf2" stroke="#f0a878" stroke-width="0.8"/>
<rect x="226.7" y="92.9" width="4.6" height="4.6" fill="#fffaf2" stroke="#f0a878" stroke-width="0.8"/>
<rect x="191.7" y="113.5" width="4.6" height="4.6" fill="#fffaf2" stroke="#f0a878" stroke-width="0.8"/>
<rect x="208.6" y="113.5" width="4.6" height="4.6" fill="#fffaf2" stroke="#f0a878" stroke-width="0.8"/>
<rect x="187.1" y="125.7" width="4.6" height="4.6" fill="#fffaf2" stroke="#f0a878" stroke-width="0.8"/>
<rect x="181.5" y="138.7" width="4.6" height="4.6" fill="#fffaf2" stroke="#f0a878" stroke-width="0.8"/>
<rect x="246.2" y="141.2" width="4.6" height="4.6" fill="#fffaf2" stroke="#f0a878" stroke-width="0.8"/>
<rect x="170.2" y="163.3" width="4.6" height="4.6" fill="#fffaf2" stroke="#f0a878" stroke-width="0.8"/>
<rect x="270.8" y="90.2" width="4.6" height="4.6" fill="#fffaf2" stroke="#f0a878" stroke-width="0.8"/>
<rect x="274.9" y="101.9" width="4.6" height="4.6" fill="#fffaf2" stroke="#f0a878" stroke-width="0.8"/>
<rect x="263.8" y="22.8" width="4.8" height="4.8" rx="1" fill="#ec6c2c" stroke="#e06a30" stroke-width="0.6"/>
<rect x="235.1" y="32.6" width="4.8" height="4.8" rx="1" fill="#ec6c2c" stroke="#e06a30" stroke-width="0.6"/>
<rect x="251.4" y="84.9" width="4.8" height="4.8" rx="1" fill="#ec6c2c" stroke="#e06a30" stroke-width="0.6"/>
<rect x="174.4" y="98.6" width="4.8" height="4.8" rx="1" fill="#ec6c2c" stroke="#e06a30" stroke-width="0.6"/>
<rect x="183.6" y="100.1" width="4.8" height="4.8" rx="1" fill="#ec6c2c" stroke="#e06a30" stroke-width="0.6"/>
<rect x="227.6" y="115.8" width="4.8" height="4.8" rx="1" fill="#ec6c2c" stroke="#e06a30" stroke-width="0.6"/>
<rect x="173.8" y="138.0" width="4.8" height="4.8" rx="1" fill="#ec6c2c" stroke="#e06a30" stroke-width="0.6"/>
<rect x="185.4" y="158.0" width="4.8" height="4.8" rx="1" fill="#ec6c2c" stroke="#e06a30" stroke-width="0.6"/>
<rect x="183.0" y="163.2" width="4.8" height="4.8" rx="1" fill="#ec6c2c" stroke="#e06a30" stroke-width="0.6"/>
<rect x="254.0" y="96.7" width="4.8" height="4.8" rx="1" fill="#ec6c2c" stroke="#e06a30" stroke-width="0.6"/>
<rect x="268.2" y="189.1" width="4.8" height="4.8" rx="1" fill="#ec6c2c" stroke="#e06a30" stroke-width="0.6"/>
<rect x="113.0" y="171.8" width="4.8" height="4.8" rx="1" fill="#ec6c2c" stroke="#e06a30" stroke-width="0.6"/>
<rect x="118.2" y="178.0" width="4.8" height="4.8" rx="1" fill="#ec6c2c" stroke="#e06a30" stroke-width="0.6"/>
<rect x="82.2" y="198.9" width="4.8" height="4.8" rx="1" fill="#ec6c2c" stroke="#e06a30" stroke-width="0.6"/>
<rect x="92.4" y="209.4" width="4.8" height="4.8" rx="1" fill="#ec6c2c" stroke="#e06a30" stroke-width="0.6"/>
<rect x="100.7" y="217.4" width="4.8" height="4.8" rx="1" fill="#ec6c2c" stroke="#e06a30" stroke-width="0.6"/>
<rect x="109.9" y="221.7" width="4.8" height="4.8" rx="1" fill="#ec6c2c" stroke="#e06a30" stroke-width="0.6"/>
<rect x="129.9" y="220.4" width="4.8" height="4.8" rx="1" fill="#ec6c2c" stroke="#e06a30" stroke-width="0.6"/>
<rect x="120.1" y="229.7" width="4.8" height="4.8" rx="1" fill="#ec6c2c" stroke="#e06a30" stroke-width="0.6"/>
<rect x="109.9" y="234.0" width="4.8" height="4.8" rx="1" fill="#ec6c2c" stroke="#e06a30" stroke-width="0.6"/>
<rect x="139.1" y="233.4" width="4.8" height="4.8" rx="1" fill="#ec6c2c" stroke="#e06a30" stroke-width="0.6"/>
<rect x="59.8" y="231.8" width="4.8" height="4.8" rx="1" fill="#ec6c2c" stroke="#e06a30" stroke-width="0.6"/>
<rect x="153.0" y="206.3" width="4.8" height="4.8" rx="1" fill="#ec6c2c" stroke="#e06a30" stroke-width="0.6"/>
<rect x="161.3" y="213.7" width="4.8" height="4.8" rx="1" fill="#ec6c2c" stroke="#e06a30" stroke-width="0.6"/>
<rect x="214.4" y="226.1" width="4.8" height="4.8" rx="1" fill="#ec6c2c" stroke="#e06a30" stroke-width="0.6"/>
<rect x="195.9" y="239.1" width="4.8" height="4.8" rx="1" fill="#ec6c2c" stroke="#e06a30" stroke-width="0.6"/>
<rect x="155.8" y="243.0" width="4.8" height="4.8" rx="1" fill="#ec6c2c" stroke="#e06a30" stroke-width="0.6"/>
<rect x="164.0" y="44.8" width="5.2" height="5.2" fill="#ee0a0a" stroke="#d00000" stroke-width="0.4"/>
<rect x="180.5" y="49.1" width="5.2" height="5.2" fill="#ee0a0a" stroke="#d00000" stroke-width="0.4"/>
<rect x="164.8" y="58.0" width="5.2" height="5.2" fill="#ee0a0a" stroke="#d00000" stroke-width="0.4"/>
<rect x="171.6" y="61.8" width="5.2" height="5.2" fill="#ee0a0a" stroke="#d00000" stroke-width="0.4"/>
<rect x="200.9" y="45.4" width="5.2" height="5.2" fill="#ee0a0a" stroke="#d00000" stroke-width="0.4"/>
<rect x="209.4" y="46.4" width="5.2" height="5.2" fill="#ee0a0a" stroke="#d00000" stroke-width="0.4"/>
<rect x="196.2" y="51.6" width="5.2" height="5.2" fill="#ee0a0a" stroke="#d00000" stroke-width="0.4"/>
<rect x="206.2" y="54.0" width="5.2" height="5.2" fill="#ee0a0a" stroke="#d00000" stroke-width="0.4"/>
<rect x="218.7" y="52.7" width="5.2" height="5.2" fill="#ee0a0a" stroke="#d00000" stroke-width="0.4"/>
<rect x="220.4" y="57.0" width="5.2" height="5.2" fill="#ee0a0a" stroke="#d00000" stroke-width="0.4"/>
<rect x="225.9" y="56.9" width="5.2" height="5.2" fill="#ee0a0a" stroke="#d00000" stroke-width="0.4"/>
<rect x="211.7" y="61.7" width="5.2" height="5.2" fill="#ee0a0a" stroke="#d00000" stroke-width="0.4"/>
<rect x="208.7" y="65.9" width="5.2" height="5.2" fill="#ee0a0a" stroke="#d00000" stroke-width="0.4"/>
<rect x="219.8" y="60.5" width="5.2" height="5.2" fill="#ee0a0a" stroke="#d00000" stroke-width="0.4"/>
<rect x="223.6" y="63.2" width="5.2" height="5.2" fill="#ee0a0a" stroke="#d00000" stroke-width="0.4"/>
<rect x="234.3" y="55.5" width="5.2" height="5.2" fill="#ee0a0a" stroke="#d00000" stroke-width="0.4"/>
<rect x="232.8" y="60.1" width="5.2" height="5.2" fill="#ee0a0a" stroke="#d00000" stroke-width="0.4"/>
<rect x="240.4" y="61.6" width="5.2" height="5.2" fill="#ee0a0a" stroke="#d00000" stroke-width="0.4"/>
<rect x="252.8" y="58.6" width="5.2" height="5.2" fill="#ee0a0a" stroke="#d00000" stroke-width="0.4"/>
<rect x="224.4" y="70.9" width="5.2" height="5.2" fill="#ee0a0a" stroke="#d00000" stroke-width="0.4"/>
<rect x="258.9" y="67.8" width="5.2" height="5.2" fill="#ee0a0a" stroke="#d00000" stroke-width="0.4"/>
<rect x="266.6" y="67.8" width="5.2" height="5.2" fill="#ee0a0a" stroke="#d00000" stroke-width="0.4"/>
<rect x="273.7" y="67.2" width="5.2" height="5.2" fill="#ee0a0a" stroke="#d00000" stroke-width="0.4"/>
<rect x="278.9" y="70.2" width="5.2" height="5.2" fill="#ee0a0a" stroke="#d00000" stroke-width="0.4"/>
<rect x="286.6" y="71.4" width="5.2" height="5.2" fill="#ee0a0a" stroke="#d00000" stroke-width="0.4"/>
<rect x="273.7" y="75.4" width="5.2" height="5.2" fill="#ee0a0a" stroke="#d00000" stroke-width="0.4"/>
<rect x="302.9" y="83.2" width="5.2" height="5.2" fill="#ee0a0a" stroke="#d00000" stroke-width="0.4"/>
<line x1="104.5" y1="208.0" x2="104.5" y2="8.0" stroke="#111" stroke-width="1.6" stroke-dasharray="4.5 3.5"/>
<line x1="104.5" y1="208.0" x2="358.8" y2="217.0" stroke="#111" stroke-width="1.6" stroke-dasharray="4.5 3.5"/>
<line x1="60.8" y1="230.1" x2="104.5" y2="208.0" stroke="#111" stroke-width="1.6" stroke-dasharray="4.5 3.5"/>
<line x1="39.7" y1="241.1" x2="202.5" y2="246.8" stroke="#111" stroke-width="1.6" stroke-dasharray="4.5 3.5"/>
<line x1="37.2" y1="242.0" x2="37.2" y2="42.0" stroke="#555" stroke-width="1.3"/>
<line x1="37.2" y1="242.0" x2="291.5" y2="251.0" stroke="#4a4a4a" stroke-width="1"/>
<line x1="291.5" y1="251.0" x2="358.8" y2="217.0" stroke="#4a4a4a" stroke-width="1"/>
<line x1="30.7" y1="222.0" x2="37.2" y2="222.0" stroke="#4a4a4a" stroke-width="1"/>
<text x="28.7" y="225.0" text-anchor="end" class="tk">0.1</text>
<line x1="30.7" y1="202.0" x2="37.2" y2="202.0" stroke="#4a4a4a" stroke-width="1"/>
<text x="28.7" y="205.0" text-anchor="end" class="tk">0.2</text>
<line x1="30.7" y1="182.0" x2="37.2" y2="182.0" stroke="#4a4a4a" stroke-width="1"/>
<text x="28.7" y="185.0" text-anchor="end" class="tk">0.3</text>
<line x1="30.7" y1="162.0" x2="37.2" y2="162.0" stroke="#4a4a4a" stroke-width="1"/>
<text x="28.7" y="165.0" text-anchor="end" class="tk">0.4</text>
<line x1="30.7" y1="142.0" x2="37.2" y2="142.0" stroke="#4a4a4a" stroke-width="1"/>
<text x="28.7" y="145.0" text-anchor="end" class="tk">0.5</text>
<line x1="30.7" y1="122.0" x2="37.2" y2="122.0" stroke="#4a4a4a" stroke-width="1"/>
<text x="28.7" y="125.0" text-anchor="end" class="tk">0.6</text>
<line x1="30.7" y1="102.0" x2="37.2" y2="102.0" stroke="#4a4a4a" stroke-width="1"/>
<text x="28.7" y="105.0" text-anchor="end" class="tk">0.7</text>
<line x1="30.7" y1="82.0" x2="37.2" y2="82.0" stroke="#4a4a4a" stroke-width="1"/>
<text x="28.7" y="85.0" text-anchor="end" class="tk">0.8</text>
<line x1="30.7" y1="62.0" x2="37.2" y2="62.0" stroke="#4a4a4a" stroke-width="1"/>
<text x="28.7" y="65.0" text-anchor="end" class="tk">0.9</text>
<line x1="55.5" y1="242.6" x2="50.5" y2="245.1" stroke="#4a4a4a" stroke-width="1"/>
<text transform="translate(48.2,254.2) scale(0.78,1)" text-anchor="end" class="tk">0.024</text>
<line x1="93.5" y1="244.0" x2="88.5" y2="246.5" stroke="#4a4a4a" stroke-width="1"/>
<text transform="translate(86.2,255.6) scale(0.78,1)" text-anchor="end" class="tk">0.022</text>
<line x1="131.5" y1="245.3" x2="126.5" y2="247.8" stroke="#4a4a4a" stroke-width="1"/>
<text transform="translate(124.2,256.9) scale(0.78,1)" text-anchor="end" class="tk">0.02</text>
<line x1="169.5" y1="246.7" x2="164.5" y2="249.2" stroke="#4a4a4a" stroke-width="1"/>
<text transform="translate(162.2,258.3) scale(0.78,1)" text-anchor="end" class="tk">0.018</text>
<line x1="207.5" y1="248.0" x2="202.5" y2="250.5" stroke="#4a4a4a" stroke-width="1"/>
<text transform="translate(200.2,259.6) scale(0.78,1)" text-anchor="end" class="tk">0.016</text>
<line x1="245.5" y1="249.4" x2="240.5" y2="251.9" stroke="#4a4a4a" stroke-width="1"/>
<text transform="translate(238.2,261.0) scale(0.78,1)" text-anchor="end" class="tk">0.014</text>
<line x1="283.5" y1="250.7" x2="278.5" y2="253.2" stroke="#4a4a4a" stroke-width="1"/>
<text transform="translate(276.2,262.3) scale(0.78,1)" text-anchor="end" class="tk">0.012</text>
<line x1="291.5" y1="251.0" x2="297.0" y2="251.0" stroke="#4a4a4a" stroke-width="1"/>
<text transform="translate(299.5,260.0) scale(0.86,1)" class="tk">1</text>
<line x1="314.4" y1="239.4" x2="319.9" y2="239.4" stroke="#4a4a4a" stroke-width="1"/>
<text transform="translate(322.4,248.4) scale(0.86,1)" class="tk">1.3</text>
<line x1="336.9" y1="228.1" x2="342.4" y2="228.1" stroke="#4a4a4a" stroke-width="1"/>
<text transform="translate(344.9,237.1) scale(0.86,1)" class="tk">1.6</text>
<line x1="418.2" y1="222.0" x2="485.5" y2="188.0" stroke="#8a8a8a" stroke-width="0.8" stroke-dasharray="1 1.4"/>
<line x1="485.5" y1="188.0" x2="739.8" y2="197.0" stroke="#8a8a8a" stroke-width="0.8" stroke-dasharray="1 1.4"/>
<line x1="418.2" y1="202.0" x2="485.5" y2="168.0" stroke="#8a8a8a" stroke-width="0.8" stroke-dasharray="1 1.4"/>
<line x1="485.5" y1="168.0" x2="739.8" y2="177.0" stroke="#8a8a8a" stroke-width="0.8" stroke-dasharray="1 1.4"/>
<line x1="418.2" y1="182.0" x2="485.5" y2="148.0" stroke="#8a8a8a" stroke-width="0.8" stroke-dasharray="1 1.4"/>
<line x1="485.5" y1="148.0" x2="739.8" y2="157.0" stroke="#8a8a8a" stroke-width="0.8" stroke-dasharray="1 1.4"/>
<line x1="418.2" y1="162.0" x2="485.5" y2="128.0" stroke="#8a8a8a" stroke-width="0.8" stroke-dasharray="1 1.4"/>
<line x1="485.5" y1="128.0" x2="739.8" y2="137.0" stroke="#8a8a8a" stroke-width="0.8" stroke-dasharray="1 1.4"/>
<line x1="418.2" y1="142.0" x2="485.5" y2="108.0" stroke="#8a8a8a" stroke-width="0.8" stroke-dasharray="1 1.4"/>
<line x1="485.5" y1="108.0" x2="739.8" y2="117.0" stroke="#8a8a8a" stroke-width="0.8" stroke-dasharray="1 1.4"/>
<line x1="418.2" y1="122.0" x2="485.5" y2="88.0" stroke="#8a8a8a" stroke-width="0.8" stroke-dasharray="1 1.4"/>
<line x1="485.5" y1="88.0" x2="739.8" y2="97.0" stroke="#8a8a8a" stroke-width="0.8" stroke-dasharray="1 1.4"/>
<line x1="418.2" y1="102.0" x2="485.5" y2="68.0" stroke="#8a8a8a" stroke-width="0.8" stroke-dasharray="1 1.4"/>
<line x1="485.5" y1="68.0" x2="739.8" y2="77.0" stroke="#8a8a8a" stroke-width="0.8" stroke-dasharray="1 1.4"/>
<line x1="418.2" y1="82.0" x2="485.5" y2="48.0" stroke="#8a8a8a" stroke-width="0.8" stroke-dasharray="1 1.4"/>
<line x1="485.5" y1="48.0" x2="739.8" y2="57.0" stroke="#8a8a8a" stroke-width="0.8" stroke-dasharray="1 1.4"/>
<line x1="418.2" y1="62.0" x2="485.5" y2="28.0" stroke="#8a8a8a" stroke-width="0.8" stroke-dasharray="1 1.4"/>
<line x1="485.5" y1="28.0" x2="739.8" y2="37.0" stroke="#8a8a8a" stroke-width="0.8" stroke-dasharray="1 1.4"/>
<line x1="418.2" y1="242.0" x2="418.2" y2="42.0" stroke="#8a8a8a" stroke-width="0.8" stroke-dasharray="1 1.4"/>
<line x1="418.2" y1="242.0" x2="672.5" y2="251.0" stroke="#8a8a8a" stroke-width="0.8" stroke-dasharray="1 1.4"/>
<line x1="434.8" y1="233.6" x2="434.8" y2="33.6" stroke="#8a8a8a" stroke-width="0.8" stroke-dasharray="1 1.4"/>
<line x1="434.8" y1="233.6" x2="689.1" y2="242.6" stroke="#8a8a8a" stroke-width="0.8" stroke-dasharray="1 1.4"/>
<line x1="451.3" y1="225.3" x2="451.3" y2="25.3" stroke="#8a8a8a" stroke-width="0.8" stroke-dasharray="1 1.4"/>
<line x1="451.3" y1="225.3" x2="705.6" y2="234.3" stroke="#8a8a8a" stroke-width="0.8" stroke-dasharray="1 1.4"/>
<line x1="467.9" y1="216.9" x2="467.9" y2="16.9" stroke="#8a8a8a" stroke-width="0.8" stroke-dasharray="1 1.4"/>
<line x1="467.9" y1="216.9" x2="722.2" y2="225.9" stroke="#8a8a8a" stroke-width="0.8" stroke-dasharray="1 1.4"/>
<line x1="485.5" y1="208.0" x2="485.5" y2="8.0" stroke="#8a8a8a" stroke-width="0.8" stroke-dasharray="1 1.4"/>
<line x1="418.2" y1="242.0" x2="485.5" y2="208.0" stroke="#8a8a8a" stroke-width="0.8" stroke-dasharray="1 1.4"/>
<line x1="521.6" y1="209.3" x2="521.6" y2="9.3" stroke="#8a8a8a" stroke-width="0.8" stroke-dasharray="1 1.4"/>
<line x1="454.3" y1="243.3" x2="521.6" y2="209.3" stroke="#8a8a8a" stroke-width="0.8" stroke-dasharray="1 1.4"/>
<line x1="557.7" y1="210.6" x2="557.7" y2="10.6" stroke="#8a8a8a" stroke-width="0.8" stroke-dasharray="1 1.4"/>
<line x1="490.4" y1="244.6" x2="557.7" y2="210.6" stroke="#8a8a8a" stroke-width="0.8" stroke-dasharray="1 1.4"/>
<line x1="593.8" y1="211.8" x2="593.8" y2="11.8" stroke="#8a8a8a" stroke-width="0.8" stroke-dasharray="1 1.4"/>
<line x1="526.5" y1="245.8" x2="593.8" y2="211.8" stroke="#8a8a8a" stroke-width="0.8" stroke-dasharray="1 1.4"/>
<line x1="629.9" y1="213.1" x2="629.9" y2="13.1" stroke="#8a8a8a" stroke-width="0.8" stroke-dasharray="1 1.4"/>
<line x1="562.6" y1="247.1" x2="629.9" y2="213.1" stroke="#8a8a8a" stroke-width="0.8" stroke-dasharray="1 1.4"/>
<line x1="666.0" y1="214.4" x2="666.0" y2="14.4" stroke="#8a8a8a" stroke-width="0.8" stroke-dasharray="1 1.4"/>
<line x1="598.7" y1="248.4" x2="666.0" y2="214.4" stroke="#8a8a8a" stroke-width="0.8" stroke-dasharray="1 1.4"/>
<line x1="702.1" y1="215.7" x2="702.1" y2="15.7" stroke="#8a8a8a" stroke-width="0.8" stroke-dasharray="1 1.4"/>
<line x1="634.8" y1="249.7" x2="702.1" y2="215.7" stroke="#8a8a8a" stroke-width="0.8" stroke-dasharray="1 1.4"/>
<line x1="738.2" y1="216.9" x2="738.2" y2="16.9" stroke="#8a8a8a" stroke-width="0.8" stroke-dasharray="1 1.4"/>
<line x1="670.9" y1="250.9" x2="738.2" y2="216.9" stroke="#8a8a8a" stroke-width="0.8" stroke-dasharray="1 1.4"/>
<defs><clipPath id="cB"><polygon points="418.3,242.0 429.5,236.2 442.2,227.2 451.2,218.1 455.8,209.0 458.3,200.0 464.4,178.0 467.0,160.0 469.0,145.0 472.0,125.0 476.1,105.0 479.0,85.0 483.2,65.0 483.9,45.0 485.4,37.5 490.0,33.5 498.0,27.0 508.0,21.0 517.0,17.2 526.0,14.5 544.0,11.8 570.0,10.5 600.0,10.9 640.0,12.5 680.0,14.7 737.4,15.7 728.0,19.5 720.0,23.9 711.0,29.0 702.6,34.8 696.5,38.5 691.7,42.4 688.0,47.0 685.2,52.2 682.5,58.0 680.8,64.0 679.0,72.0 677.3,80.0 676.0,100.3 674.6,120.0 673.2,140.0 672.0,160.0 668.0,169.0 664.4,178.0 659.9,187.0 655.0,196.0 649.8,209.0 644.3,218.0 635.3,227.2 622.6,236.2 604.5,243.5 590.0,246.0 500.0,244.5"/></clipPath></defs>
<defs><linearGradient id="sB0" gradientUnits="userSpaceOnUse" x1="0" y1="10" x2="0" y2="246"><stop offset="0" stop-color="#f20000"/><stop offset="0.0455" stop-color="#ff0200"/><stop offset="0.0909" stop-color="#ff1000"/><stop offset="0.136" stop-color="#ff3200"/><stop offset="0.182" stop-color="#ff6600"/><stop offset="0.227" stop-color="#ff9300"/><stop offset="0.273" stop-color="#ffc000"/><stop offset="0.318" stop-color="#ffec00"/><stop offset="0.364" stop-color="#ebff14"/><stop offset="0.409" stop-color="#c7ff38"/><stop offset="0.455" stop-color="#97ff68"/><stop offset="0.5" stop-color="#3cffc3"/><stop offset="0.545" stop-color="#00ffff"/><stop offset="0.591" stop-color="#00d3ff"/><stop offset="0.636" stop-color="#00a9ff"/><stop offset="0.682" stop-color="#0080ff"/><stop offset="0.727" stop-color="#004cff"/><stop offset="0.773" stop-color="#0016ff"/><stop offset="0.818" stop-color="#0000ef"/><stop offset="0.864" stop-color="#0000cd"/><stop offset="0.909" stop-color="#0000b9"/><stop offset="0.955" stop-color="#0000b2"/><stop offset="1" stop-color="#0000b2"/></linearGradient><linearGradient id="sB1" gradientUnits="userSpaceOnUse" x1="0" y1="10" x2="0" y2="246"><stop offset="0" stop-color="#f20000"/><stop offset="0.0455" stop-color="#ff0200"/><stop offset="0.0909" stop-color="#ff1000"/><stop offset="0.136" stop-color="#ff3200"/><stop offset="0.182" stop-color="#ff6600"/><stop offset="0.227" stop-color="#ff9300"/><stop offset="0.273" stop-color="#ffc000"/><stop offset="0.318" stop-color="#ffec00"/><stop offset="0.364" stop-color="#ebff14"/><stop offset="0.409" stop-color="#c7ff38"/><stop offset="0.455" stop-color="#97ff68"/><stop offset="0.5" stop-color="#3cffc3"/><stop offset="0.545" stop-color="#00ffff"/><stop offset="0.591" stop-color="#00d3ff"/><stop offset="0.636" stop-color="#00a9ff"/><stop offset="0.682" stop-color="#0080ff"/><stop offset="0.727" stop-color="#004cff"/><stop offset="0.773" stop-color="#0016ff"/><stop offset="0.818" stop-color="#0000ef"/><stop offset="0.864" stop-color="#0000cd"/><stop offset="0.909" stop-color="#0000b9"/><stop offset="0.955" stop-color="#0000b2"/><stop offset="1" stop-color="#0000b2"/></linearGradient><linearGradient id="sB2" gradientUnits="userSpaceOnUse" x1="0" y1="10" x2="0" y2="246"><stop offset="0" stop-color="#f20000"/><stop offset="0.0455" stop-color="#ff0200"/><stop offset="0.0909" stop-color="#ff1000"/><stop offset="0.136" stop-color="#ff3200"/><stop offset="0.182" stop-color="#ff6600"/><stop offset="0.227" stop-color="#ff9300"/><stop offset="0.273" stop-color="#ffc000"/><stop offset="0.318" stop-color="#ffec00"/><stop offset="0.364" stop-color="#ebff14"/><stop offset="0.409" stop-color="#c7ff38"/><stop offset="0.455" stop-color="#97ff68"/><stop offset="0.5" stop-color="#3cffc3"/><stop offset="0.545" stop-color="#00ffff"/><stop offset="0.591" stop-color="#00d3ff"/><stop offset="0.636" stop-color="#00a9ff"/><stop offset="0.682" stop-color="#0080ff"/><stop offset="0.727" stop-color="#004cff"/><stop offset="0.773" stop-color="#0016ff"/><stop offset="0.818" stop-color="#0000ef"/><stop offset="0.864" stop-color="#0000cd"/><stop offset="0.909" stop-color="#0000b9"/><stop offset="0.955" stop-color="#0000b2"/><stop offset="1" stop-color="#0000b2"/></linearGradient><linearGradient id="sB3" gradientUnits="userSpaceOnUse" x1="0" y1="10" x2="0" y2="246"><stop offset="0" stop-color="#f20000"/><stop offset="0.0455" stop-color="#ff0200"/><stop offset="0.0909" stop-color="#ff1000"/><stop offset="0.136" stop-color="#ff3200"/><stop offset="0.182" stop-color="#ff6600"/><stop offset="0.227" stop-color="#ff9300"/><stop offset="0.273" stop-color="#ffc000"/><stop offset="0.318" stop-color="#ffec00"/><stop offset="0.364" stop-color="#ebff14"/><stop offset="0.409" stop-color="#c7ff38"/><stop offset="0.455" stop-color="#97ff68"/><stop offset="0.5" stop-color="#3cffc3"/><stop offset="0.545" stop-color="#00ffff"/><stop offset="0.591" stop-color="#00d3ff"/><stop offset="0.636" stop-color="#00a9ff"/><stop offset="0.682" stop-color="#0080ff"/><stop offset="0.727" stop-color="#004cff"/><stop offset="0.773" stop-color="#0016ff"/><stop offset="0.818" stop-color="#0000ef"/><stop offset="0.864" stop-color="#0000cd"/><stop offset="0.909" stop-color="#0000b9"/><stop offset="0.955" stop-color="#0000b2"/><stop offset="1" stop-color="#0000b2"/></linearGradient><linearGradient id="sB4" gradientUnits="userSpaceOnUse" x1="0" y1="10" x2="0" y2="246"><stop offset="0" stop-color="#ef0000"/><stop offset="0.0455" stop-color="#fd0000"/><stop offset="0.0909" stop-color="#ff0c00"/><stop offset="0.136" stop-color="#ff2e00"/><stop offset="0.182" stop-color="#ff6200"/><stop offset="0.227" stop-color="#ff8e00"/><stop offset="0.273" stop-color="#ffbb00"/><stop offset="0.318" stop-color="#ffe700"/><stop offset="0.364" stop-color="#efff10"/><stop offset="0.409" stop-color="#cbff34"/><stop offset="0.455" stop-color="#9bff64"/><stop offset="0.5" stop-color="#40ffbf"/><stop offset="0.545" stop-color="#05fffa"/><stop offset="0.591" stop-color="#00d7ff"/><stop offset="0.636" stop-color="#00acff"/><stop offset="0.682" stop-color="#0083ff"/><stop offset="0.727" stop-color="#0050ff"/><stop offset="0.773" stop-color="#001aff"/><stop offset="0.818" stop-color="#0000f3"/><stop offset="0.864" stop-color="#0000d1"/><stop offset="0.909" stop-color="#0000bd"/><stop offset="0.955" stop-color="#0000b2"/><stop offset="1" stop-color="#0000b2"/></linearGradient><linearGradient id="sB5" gradientUnits="userSpaceOnUse" x1="0" y1="10" x2="0" y2="246"><stop offset="0" stop-color="#ea0000"/><stop offset="0.0455" stop-color="#f80000"/><stop offset="0.0909" stop-color="#ff0700"/><stop offset="0.136" stop-color="#ff2800"/><stop offset="0.182" stop-color="#ff5a00"/><stop offset="0.227" stop-color="#ff8600"/><stop offset="0.273" stop-color="#ffb300"/><stop offset="0.318" stop-color="#ffdf00"/><stop offset="0.364" stop-color="#f7ff08"/><stop offset="0.409" stop-color="#d1ff2e"/><stop offset="0.455" stop-color="#a1ff5e"/><stop offset="0.5" stop-color="#48ffb7"/><stop offset="0.545" stop-color="#0cfff3"/><stop offset="0.591" stop-color="#00ddff"/><stop offset="0.636" stop-color="#00b2ff"/><stop offset="0.682" stop-color="#0088ff"/><stop offset="0.727" stop-color="#0056ff"/><stop offset="0.773" stop-color="#0021ff"/><stop offset="0.818" stop-color="#0000fa"/><stop offset="0.864" stop-color="#0000d8"/><stop offset="0.909" stop-color="#0000c4"/><stop offset="0.955" stop-color="#0000b2"/><stop offset="1" stop-color="#0000b2"/></linearGradient><linearGradient id="sB6" gradientUnits="userSpaceOnUse" x1="0" y1="10" x2="0" y2="246"><stop offset="0" stop-color="#e50000"/><stop offset="0.0455" stop-color="#f30000"/><stop offset="0.0909" stop-color="#ff0200"/><stop offset="0.136" stop-color="#ff2100"/><stop offset="0.182" stop-color="#ff5200"/><stop offset="0.227" stop-color="#ff7e00"/><stop offset="0.273" stop-color="#ffab00"/><stop offset="0.318" stop-color="#ffd700"/><stop offset="0.364" stop-color="#feff01"/><stop offset="0.409" stop-color="#d7ff28"/><stop offset="0.455" stop-color="#a7ff58"/><stop offset="0.5" stop-color="#4fffb0"/><stop offset="0.545" stop-color="#14ffeb"/><stop offset="0.591" stop-color="#00e4ff"/><stop offset="0.636" stop-color="#00b8ff"/><stop offset="0.682" stop-color="#008dff"/><stop offset="0.727" stop-color="#005cff"/><stop offset="0.773" stop-color="#0027ff"/><stop offset="0.818" stop-color="#0002ff"/><stop offset="0.864" stop-color="#0000df"/><stop offset="0.909" stop-color="#0000ca"/><stop offset="0.955" stop-color="#0000b7"/><stop offset="1" stop-color="#0000b2"/></linearGradient><linearGradient id="sB7" gradientUnits="userSpaceOnUse" x1="0" y1="10" x2="0" y2="246"><stop offset="0" stop-color="#e10000"/><stop offset="0.0455" stop-color="#ee0000"/><stop offset="0.0909" stop-color="#fb0000"/><stop offset="0.136" stop-color="#ff1b00"/><stop offset="0.182" stop-color="#ff4a00"/><stop offset="0.227" stop-color="#ff7600"/><stop offset="0.273" stop-color="#ffa300"/><stop offset="0.318" stop-color="#ffce00"/><stop offset="0.364" stop-color="#fff800"/><stop offset="0.409" stop-color="#deff21"/><stop offset="0.455" stop-color="#acff53"/><stop offset="0.5" stop-color="#56ffa9"/><stop offset="0.545" stop-color="#1bffe4"/><stop offset="0.591" stop-color="#00eaff"/><stop offset="0.636" stop-color="#00bdff"/><stop offset="0.682" stop-color="#0093ff"/><stop offset="0.727" stop-color="#0062ff"/><stop offset="0.773" stop-color="#002eff"/><stop offset="0.818" stop-color="#0009ff"/><stop offset="0.864" stop-color="#0000e6"/><stop offset="0.909" stop-color="#0000d1"/><stop offset="0.955" stop-color="#0000bd"/><stop offset="1" stop-color="#0000b2"/></linearGradient><linearGradient id="sB8" gradientUnits="userSpaceOnUse" x1="0" y1="10" x2="0" y2="246"><stop offset="0" stop-color="#dc0000"/><stop offset="0.0455" stop-color="#e90000"/><stop offset="0.0909" stop-color="#f60000"/><stop offset="0.136" stop-color="#ff1500"/><stop offset="0.182" stop-color="#ff4300"/><stop offset="0.227" stop-color="#ff6e00"/><stop offset="0.273" stop-color="#ff9a00"/><stop offset="0.318" stop-color="#ffc600"/><stop offset="0.364" stop-color="#fff100"/><stop offset="0.409" stop-color="#e4ff1b"/><stop offset="0.455" stop-color="#b2ff4d"/><stop offset="0.5" stop-color="#5effa1"/><stop offset="0.545" stop-color="#23ffdc"/><stop offset="0.591" stop-color="#00f1ff"/><stop offset="0.636" stop-color="#00c3ff"/><stop offset="0.682" stop-color="#0098ff"/><stop offset="0.727" stop-color="#0067ff"/><stop offset="0.773" stop-color="#0034ff"/><stop offset="0.818" stop-color="#000fff"/><stop offset="0.864" stop-color="#0000ed"/><stop offset="0.909" stop-color="#0000d7"/><stop offset="0.955" stop-color="#0000c3"/><stop offset="1" stop-color="#0000b2"/></linearGradient><linearGradient id="sB9" gradientUnits="userSpaceOnUse" x1="0" y1="10" x2="0" y2="246"><stop offset="0" stop-color="#d80000"/><stop offset="0.0455" stop-color="#e30000"/><stop offset="0.0909" stop-color="#f10000"/><stop offset="0.136" stop-color="#ff0f00"/><stop offset="0.182" stop-color="#ff3b00"/><stop offset="0.227" stop-color="#ff6600"/><stop offset="0.273" stop-color="#ff9200"/><stop offset="0.318" stop-color="#ffbe00"/><stop offset="0.364" stop-color="#ffe900"/><stop offset="0.409" stop-color="#eaff15"/><stop offset="0.455" stop-color="#b8ff47"/><stop offset="0.5" stop-color="#65ff9a"/><stop offset="0.545" stop-color="#2affd5"/><stop offset="0.591" stop-color="#00f7ff"/><stop offset="0.636" stop-color="#00c9ff"/><stop offset="0.682" stop-color="#009dff"/><stop offset="0.727" stop-color="#006dff"/><stop offset="0.773" stop-color="#003bff"/><stop offset="0.818" stop-color="#0016ff"/><stop offset="0.864" stop-color="#0000f4"/><stop offset="0.909" stop-color="#0000de"/><stop offset="0.955" stop-color="#0000c9"/><stop offset="1" stop-color="#0000b5"/></linearGradient><linearGradient id="sB10" gradientUnits="userSpaceOnUse" x1="0" y1="10" x2="0" y2="246"><stop offset="0" stop-color="#d30000"/><stop offset="0.0455" stop-color="#de0000"/><stop offset="0.0909" stop-color="#eb0000"/><stop offset="0.136" stop-color="#ff0800"/><stop offset="0.182" stop-color="#ff3300"/><stop offset="0.227" stop-color="#ff5e00"/><stop offset="0.273" stop-color="#ff8a00"/><stop offset="0.318" stop-color="#ffb600"/><stop offset="0.364" stop-color="#ffe100"/><stop offset="0.409" stop-color="#f0ff0f"/><stop offset="0.455" stop-color="#beff41"/><stop offset="0.5" stop-color="#6cff93"/><stop offset="0.545" stop-color="#32ffcd"/><stop offset="0.591" stop-color="#00fdff"/><stop offset="0.636" stop-color="#00ceff"/><stop offset="0.682" stop-color="#00a3ff"/><stop offset="0.727" stop-color="#0073ff"/><stop offset="0.773" stop-color="#0042ff"/><stop offset="0.818" stop-color="#001dff"/><stop offset="0.864" stop-color="#0000fb"/><stop offset="0.909" stop-color="#0000e4"/><stop offset="0.955" stop-color="#0000ce"/><stop offset="1" stop-color="#0000bb"/></linearGradient><linearGradient id="sB11" gradientUnits="userSpaceOnUse" x1="0" y1="10" x2="0" y2="246"><stop offset="0" stop-color="#ce0000"/><stop offset="0.0455" stop-color="#d90000"/><stop offset="0.0909" stop-color="#e60000"/><stop offset="0.136" stop-color="#ff0200"/><stop offset="0.182" stop-color="#ff2c00"/><stop offset="0.227" stop-color="#ff5600"/><stop offset="0.273" stop-color="#ff8200"/><stop offset="0.318" stop-color="#ffae00"/><stop offset="0.364" stop-color="#ffda00"/><stop offset="0.409" stop-color="#f7ff08"/><stop offset="0.455" stop-color="#c4ff3b"/><stop offset="0.5" stop-color="#74ff8b"/><stop offset="0.545" stop-color="#3affc5"/><stop offset="0.591" stop-color="#05fffa"/><stop offset="0.636" stop-color="#00d4ff"/><stop offset="0.682" stop-color="#00a8ff"/><stop offset="0.727" stop-color="#0079ff"/><stop offset="0.773" stop-color="#0048ff"/><stop offset="0.818" stop-color="#0024ff"/><stop offset="0.864" stop-color="#0003ff"/><stop offset="0.909" stop-color="#0000ea"/><stop offset="0.955" stop-color="#0000d4"/><stop offset="1" stop-color="#0000c0"/></linearGradient><linearGradient id="sB12" gradientUnits="userSpaceOnUse" x1="0" y1="10" x2="0" y2="246"><stop offset="0" stop-color="#ca0000"/><stop offset="0.0455" stop-color="#d40000"/><stop offset="0.0909" stop-color="#e00000"/><stop offset="0.136" stop-color="#fb0000"/><stop offset="0.182" stop-color="#ff2400"/><stop offset="0.227" stop-color="#ff4e00"/><stop offset="0.273" stop-color="#ff7a00"/><stop offset="0.318" stop-color="#ffa600"/><stop offset="0.364" stop-color="#ffd200"/><stop offset="0.409" stop-color="#fdff02"/><stop offset="0.455" stop-color="#caff35"/><stop offset="0.5" stop-color="#7bff84"/><stop offset="0.545" stop-color="#41ffbe"/><stop offset="0.591" stop-color="#0bfff4"/><stop offset="0.636" stop-color="#00daff"/><stop offset="0.682" stop-color="#00adff"/><stop offset="0.727" stop-color="#007fff"/><stop offset="0.773" stop-color="#004fff"/><stop offset="0.818" stop-color="#002aff"/><stop offset="0.864" stop-color="#000aff"/><stop offset="0.909" stop-color="#0000f1"/><stop offset="0.955" stop-color="#0000da"/><stop offset="1" stop-color="#0000c5"/></linearGradient><linearGradient id="sB13" gradientUnits="userSpaceOnUse" x1="0" y1="10" x2="0" y2="246"><stop offset="0" stop-color="#c50000"/><stop offset="0.0455" stop-color="#ce0000"/><stop offset="0.0909" stop-color="#db0000"/><stop offset="0.136" stop-color="#f40000"/><stop offset="0.182" stop-color="#ff1c00"/><stop offset="0.227" stop-color="#ff4600"/><stop offset="0.273" stop-color="#ff7200"/><stop offset="0.318" stop-color="#ff9d00"/><stop offset="0.364" stop-color="#ffcb00"/><stop offset="0.409" stop-color="#fffb00"/><stop offset="0.455" stop-color="#cfff30"/><stop offset="0.5" stop-color="#82ff7d"/><stop offset="0.545" stop-color="#49ffb6"/><stop offset="0.591" stop-color="#12ffed"/><stop offset="0.636" stop-color="#00dfff"/><stop offset="0.682" stop-color="#00b2ff"/><stop offset="0.727" stop-color="#0085ff"/><stop offset="0.773" stop-color="#0056ff"/><stop offset="0.818" stop-color="#0031ff"/><stop offset="0.864" stop-color="#0011ff"/><stop offset="0.909" stop-color="#0000f7"/><stop offset="0.955" stop-color="#0000e0"/><stop offset="1" stop-color="#0000ca"/></linearGradient><linearGradient id="sB14" gradientUnits="userSpaceOnUse" x1="0" y1="10" x2="0" y2="246"><stop offset="0" stop-color="#c00000"/><stop offset="0.0455" stop-color="#c90000"/><stop offset="0.0909" stop-color="#d60000"/><stop offset="0.136" stop-color="#ee0000"/><stop offset="0.182" stop-color="#ff1400"/><stop offset="0.227" stop-color="#ff3e00"/><stop offset="0.273" stop-color="#ff6a00"/><stop offset="0.318" stop-color="#ff9500"/><stop offset="0.364" stop-color="#ffc300"/><stop offset="0.409" stop-color="#fff500"/><stop offset="0.455" stop-color="#d5ff2a"/><stop offset="0.5" stop-color="#8aff75"/><stop offset="0.545" stop-color="#50ffaf"/><stop offset="0.591" stop-color="#18ffe7"/><stop offset="0.636" stop-color="#00e5ff"/><stop offset="0.682" stop-color="#00b8ff"/><stop offset="0.727" stop-color="#008bff"/><stop offset="0.773" stop-color="#005cff"/><stop offset="0.818" stop-color="#0038ff"/><stop offset="0.864" stop-color="#0018ff"/><stop offset="0.909" stop-color="#0000fe"/><stop offset="0.955" stop-color="#0000e6"/><stop offset="1" stop-color="#0000d0"/></linearGradient><linearGradient id="sB15" gradientUnits="userSpaceOnUse" x1="0" y1="10" x2="0" y2="246"><stop offset="0" stop-color="#bc0000"/><stop offset="0.0455" stop-color="#c40000"/><stop offset="0.0909" stop-color="#d00000"/><stop offset="0.136" stop-color="#e80000"/><stop offset="0.182" stop-color="#ff0d00"/><stop offset="0.227" stop-color="#ff3600"/><stop offset="0.273" stop-color="#ff6100"/><stop offset="0.318" stop-color="#ff8d00"/><stop offset="0.364" stop-color="#ffbc00"/><stop offset="0.409" stop-color="#ffef00"/><stop offset="0.455" stop-color="#dbff24"/><stop offset="0.5" stop-color="#91ff6e"/><stop offset="0.545" stop-color="#58ffa7"/><stop offset="0.591" stop-color="#1fffe0"/><stop offset="0.636" stop-color="#00eaff"/><stop offset="0.682" stop-color="#00bdff"/><stop offset="0.727" stop-color="#0091ff"/><stop offset="0.773" stop-color="#0063ff"/><stop offset="0.818" stop-color="#003fff"/><stop offset="0.864" stop-color="#001fff"/><stop offset="0.909" stop-color="#0005ff"/><stop offset="0.955" stop-color="#0000eb"/><stop offset="1" stop-color="#0000d5"/></linearGradient><linearGradient id="sB16" gradientUnits="userSpaceOnUse" x1="0" y1="10" x2="0" y2="246"><stop offset="0" stop-color="#b70000"/><stop offset="0.0455" stop-color="#bf0000"/><stop offset="0.0909" stop-color="#cb0000"/><stop offset="0.136" stop-color="#e10000"/><stop offset="0.182" stop-color="#ff0500"/><stop offset="0.227" stop-color="#ff2e00"/><stop offset="0.273" stop-color="#ff5900"/><stop offset="0.318" stop-color="#ff8500"/><stop offset="0.364" stop-color="#ffb400"/><stop offset="0.409" stop-color="#ffe800"/><stop offset="0.455" stop-color="#e1ff1e"/><stop offset="0.5" stop-color="#98ff67"/><stop offset="0.545" stop-color="#5fffa0"/><stop offset="0.591" stop-color="#25ffda"/><stop offset="0.636" stop-color="#00f0ff"/><stop offset="0.682" stop-color="#00c2ff"/><stop offset="0.727" stop-color="#0097ff"/><stop offset="0.773" stop-color="#0069ff"/><stop offset="0.818" stop-color="#0045ff"/><stop offset="0.864" stop-color="#0026ff"/><stop offset="0.909" stop-color="#000cff"/><stop offset="0.955" stop-color="#0000f1"/><stop offset="1" stop-color="#0000da"/></linearGradient><linearGradient id="sB17" gradientUnits="userSpaceOnUse" x1="0" y1="10" x2="0" y2="246"><stop offset="0" stop-color="#b20000"/><stop offset="0.0455" stop-color="#b90000"/><stop offset="0.0909" stop-color="#c60000"/><stop offset="0.136" stop-color="#db0000"/><stop offset="0.182" stop-color="#fc0000"/><stop offset="0.227" stop-color="#ff2700"/><stop offset="0.273" stop-color="#ff5100"/><stop offset="0.318" stop-color="#ff7d00"/><stop offset="0.364" stop-color="#ffad00"/><stop offset="0.409" stop-color="#ffe200"/><stop offset="0.455" stop-color="#e7ff18"/><stop offset="0.5" stop-color="#a0ff5f"/><stop offset="0.545" stop-color="#67ff98"/><stop offset="0.591" stop-color="#2cffd3"/><stop offset="0.636" stop-color="#00f6ff"/><stop offset="0.682" stop-color="#00c8ff"/><stop offset="0.727" stop-color="#009cff"/><stop offset="0.773" stop-color="#0070ff"/><stop offset="0.818" stop-color="#004cff"/><stop offset="0.864" stop-color="#002dff"/><stop offset="0.909" stop-color="#0012ff"/><stop offset="0.955" stop-color="#0000f7"/><stop offset="1" stop-color="#0000df"/></linearGradient><linearGradient id="sB18" gradientUnits="userSpaceOnUse" x1="0" y1="10" x2="0" y2="246"><stop offset="0" stop-color="#ae0000"/><stop offset="0.0455" stop-color="#b40000"/><stop offset="0.0909" stop-color="#c00000"/><stop offset="0.136" stop-color="#d50000"/><stop offset="0.182" stop-color="#f50000"/><stop offset="0.227" stop-color="#ff1f00"/><stop offset="0.273" stop-color="#ff4900"/><stop offset="0.318" stop-color="#ff7500"/><stop offset="0.364" stop-color="#ffa500"/><stop offset="0.409" stop-color="#ffdc00"/><stop offset="0.455" stop-color="#edff12"/><stop offset="0.5" stop-color="#a7ff58"/><stop offset="0.545" stop-color="#6eff91"/><stop offset="0.591" stop-color="#32ffcd"/><stop offset="0.636" stop-color="#00fbff"/><stop offset="0.682" stop-color="#00cdff"/><stop offset="0.727" stop-color="#00a2ff"/><stop offset="0.773" stop-color="#0077ff"/><stop offset="0.818" stop-color="#0053ff"/><stop offset="0.864" stop-color="#0034ff"/><stop offset="0.909" stop-color="#0019ff"/><stop offset="0.955" stop-color="#0000fd"/><stop offset="1" stop-color="#0000e5"/></linearGradient><linearGradient id="sB19" gradientUnits="userSpaceOnUse" x1="0" y1="10" x2="0" y2="246"><stop offset="0" stop-color="#a90000"/><stop offset="0.0455" stop-color="#af0000"/><stop offset="0.0909" stop-color="#bb0000"/><stop offset="0.136" stop-color="#ce0000"/><stop offset="0.182" stop-color="#ed0000"/><stop offset="0.227" stop-color="#ff1700"/><stop offset="0.273" stop-color="#ff4100"/><stop offset="0.318" stop-color="#ff6d00"/><stop offset="0.364" stop-color="#ff9e00"/><stop offset="0.409" stop-color="#ffd600"/><stop offset="0.455" stop-color="#f3ff0c"/><stop offset="0.5" stop-color="#afff50"/><stop offset="0.545" stop-color="#76ff89"/><stop offset="0.591" stop-color="#39ffc6"/><stop offset="0.636" stop-color="#02fffd"/><stop offset="0.682" stop-color="#00d2ff"/><stop offset="0.727" stop-color="#00a8ff"/><stop offset="0.773" stop-color="#007dff"/><stop offset="0.818" stop-color="#005aff"/><stop offset="0.864" stop-color="#003bff"/><stop offset="0.909" stop-color="#001fff"/><stop offset="0.955" stop-color="#0004ff"/><stop offset="1" stop-color="#0000ea"/></linearGradient><linearGradient id="sB20" gradientUnits="userSpaceOnUse" x1="0" y1="10" x2="0" y2="246"><stop offset="0" stop-color="#a40000"/><stop offset="0.0455" stop-color="#aa0000"/><stop offset="0.0909" stop-color="#b50000"/><stop offset="0.136" stop-color="#c80000"/><stop offset="0.182" stop-color="#e50000"/><stop offset="0.227" stop-color="#ff0f00"/><stop offset="0.273" stop-color="#ff3900"/><stop offset="0.318" stop-color="#ff6400"/><stop offset="0.364" stop-color="#ff9600"/><stop offset="0.409" stop-color="#ffd000"/><stop offset="0.455" stop-color="#f8ff07"/><stop offset="0.5" stop-color="#b6ff49"/><stop offset="0.545" stop-color="#7eff81"/><stop offset="0.591" stop-color="#3fffc0"/><stop offset="0.636" stop-color="#08fff7"/><stop offset="0.682" stop-color="#00d7ff"/><stop offset="0.727" stop-color="#00aeff"/><stop offset="0.773" stop-color="#0084ff"/><stop offset="0.818" stop-color="#0060ff"/><stop offset="0.864" stop-color="#0042ff"/><stop offset="0.909" stop-color="#0025ff"/><stop offset="0.955" stop-color="#0009ff"/><stop offset="1" stop-color="#0000ef"/></linearGradient><linearGradient id="sB21" gradientUnits="userSpaceOnUse" x1="0" y1="10" x2="0" y2="246"><stop offset="0" stop-color="#a00000"/><stop offset="0.0455" stop-color="#a40000"/><stop offset="0.0909" stop-color="#b00000"/><stop offset="0.136" stop-color="#c20000"/><stop offset="0.182" stop-color="#dd0000"/><stop offset="0.227" stop-color="#ff0700"/><stop offset="0.273" stop-color="#ff3000"/><stop offset="0.318" stop-color="#ff5c00"/><stop offset="0.364" stop-color="#ff8f00"/><stop offset="0.409" stop-color="#ffc900"/><stop offset="0.455" stop-color="#feff01"/><stop offset="0.5" stop-color="#bdff42"/><stop offset="0.545" stop-color="#85ff7a"/><stop offset="0.591" stop-color="#46ffb9"/><stop offset="0.636" stop-color="#0dfff2"/><stop offset="0.682" stop-color="#00ddff"/><stop offset="0.727" stop-color="#00b4ff"/><stop offset="0.773" stop-color="#008bff"/><stop offset="0.818" stop-color="#0067ff"/><stop offset="0.864" stop-color="#0049ff"/><stop offset="0.909" stop-color="#002cff"/><stop offset="0.955" stop-color="#000fff"/><stop offset="1" stop-color="#0000f4"/></linearGradient><linearGradient id="sB22" gradientUnits="userSpaceOnUse" x1="0" y1="10" x2="0" y2="246"><stop offset="0" stop-color="#9b0000"/><stop offset="0.0455" stop-color="#9f0000"/><stop offset="0.0909" stop-color="#ab0000"/><stop offset="0.136" stop-color="#bb0000"/><stop offset="0.182" stop-color="#d60000"/><stop offset="0.227" stop-color="#fe0000"/><stop offset="0.273" stop-color="#ff2800"/><stop offset="0.318" stop-color="#ff5400"/><stop offset="0.364" stop-color="#ff8700"/><stop offset="0.409" stop-color="#ffc300"/><stop offset="0.455" stop-color="#fffa00"/><stop offset="0.5" stop-color="#c5ff3a"/><stop offset="0.545" stop-color="#8dff72"/><stop offset="0.591" stop-color="#4cffb3"/><stop offset="0.636" stop-color="#13ffec"/><stop offset="0.682" stop-color="#00e2ff"/><stop offset="0.727" stop-color="#00baff"/><stop offset="0.773" stop-color="#0091ff"/><stop offset="0.818" stop-color="#006eff"/><stop offset="0.864" stop-color="#0050ff"/><stop offset="0.909" stop-color="#0032ff"/><stop offset="0.955" stop-color="#0015ff"/><stop offset="1" stop-color="#0000fa"/></linearGradient><linearGradient id="sB23" gradientUnits="userSpaceOnUse" x1="0" y1="10" x2="0" y2="246"><stop offset="0" stop-color="#960000"/><stop offset="0.0455" stop-color="#9a0000"/><stop offset="0.0909" stop-color="#a50000"/><stop offset="0.136" stop-color="#b50000"/><stop offset="0.182" stop-color="#ce0000"/><stop offset="0.227" stop-color="#f60000"/><stop offset="0.273" stop-color="#ff2000"/><stop offset="0.318" stop-color="#ff4c00"/><stop offset="0.364" stop-color="#ff8000"/><stop offset="0.409" stop-color="#ffbd00"/><stop offset="0.455" stop-color="#fff400"/><stop offset="0.5" stop-color="#ccff33"/><stop offset="0.545" stop-color="#94ff6b"/><stop offset="0.591" stop-color="#53ffac"/><stop offset="0.636" stop-color="#18ffe7"/><stop offset="0.682" stop-color="#00e7ff"/><stop offset="0.727" stop-color="#00c0ff"/><stop offset="0.773" stop-color="#0098ff"/><stop offset="0.818" stop-color="#0075ff"/><stop offset="0.864" stop-color="#0057ff"/><stop offset="0.909" stop-color="#0039ff"/><stop offset="0.955" stop-color="#001bff"/><stop offset="1" stop-color="#0000ff"/></linearGradient><linearGradient id="sB24" gradientUnits="userSpaceOnUse" x1="0" y1="10" x2="0" y2="246"><stop offset="0" stop-color="#920000"/><stop offset="0.0455" stop-color="#950000"/><stop offset="0.0909" stop-color="#a00000"/><stop offset="0.136" stop-color="#af0000"/><stop offset="0.182" stop-color="#c60000"/><stop offset="0.227" stop-color="#ee0000"/><stop offset="0.273" stop-color="#ff1800"/><stop offset="0.318" stop-color="#ff4400"/><stop offset="0.364" stop-color="#ff7800"/><stop offset="0.409" stop-color="#ffb700"/><stop offset="0.455" stop-color="#ffee00"/><stop offset="0.5" stop-color="#d3ff2c"/><stop offset="0.545" stop-color="#9cff63"/><stop offset="0.591" stop-color="#59ffa6"/><stop offset="0.636" stop-color="#1effe1"/><stop offset="0.682" stop-color="#00edff"/><stop offset="0.727" stop-color="#00c6ff"/><stop offset="0.773" stop-color="#009eff"/><stop offset="0.818" stop-color="#007bff"/><stop offset="0.864" stop-color="#005eff"/><stop offset="0.909" stop-color="#003fff"/><stop offset="0.955" stop-color="#0021ff"/><stop offset="1" stop-color="#0005ff"/></linearGradient><linearGradient id="sB25" gradientUnits="userSpaceOnUse" x1="0" y1="10" x2="0" y2="246"><stop offset="0" stop-color="#8d0000"/><stop offset="0.0455" stop-color="#8f0000"/><stop offset="0.0909" stop-color="#9b0000"/><stop offset="0.136" stop-color="#a80000"/><stop offset="0.182" stop-color="#bf0000"/><stop offset="0.227" stop-color="#e60000"/><stop offset="0.273" stop-color="#ff1000"/><stop offset="0.318" stop-color="#ff3c00"/><stop offset="0.364" stop-color="#ff7100"/><stop offset="0.409" stop-color="#ffb100"/><stop offset="0.455" stop-color="#ffe800"/><stop offset="0.5" stop-color="#dbff24"/><stop offset="0.545" stop-color="#a3ff5c"/><stop offset="0.591" stop-color="#60ff9f"/><stop offset="0.636" stop-color="#24ffdb"/><stop offset="0.682" stop-color="#00f2ff"/><stop offset="0.727" stop-color="#00ccff"/><stop offset="0.773" stop-color="#00a5ff"/><stop offset="0.818" stop-color="#0082ff"/><stop offset="0.864" stop-color="#0064ff"/><stop offset="0.909" stop-color="#0046ff"/><stop offset="0.955" stop-color="#0027ff"/><stop offset="1" stop-color="#000aff"/></linearGradient><linearGradient id="sB26" gradientUnits="userSpaceOnUse" x1="0" y1="10" x2="0" y2="246"><stop offset="0" stop-color="#8a0000"/><stop offset="0.0455" stop-color="#8a0000"/><stop offset="0.0909" stop-color="#950000"/><stop offset="0.136" stop-color="#a20000"/><stop offset="0.182" stop-color="#b70000"/><stop offset="0.227" stop-color="#de0000"/><stop offset="0.273" stop-color="#ff0800"/><stop offset="0.318" stop-color="#ff3300"/><stop offset="0.364" stop-color="#ff6900"/><stop offset="0.409" stop-color="#ffaa00"/><stop offset="0.455" stop-color="#ffe300"/><stop offset="0.5" stop-color="#e2ff1d"/><stop offset="0.545" stop-color="#abff54"/><stop offset="0.591" stop-color="#66ff99"/><stop offset="0.636" stop-color="#29ffd6"/><stop offset="0.682" stop-color="#00f7ff"/><stop offset="0.727" stop-color="#00d1ff"/><stop offset="0.773" stop-color="#00acff"/><stop offset="0.818" stop-color="#0089ff"/><stop offset="0.864" stop-color="#006bff"/><stop offset="0.909" stop-color="#004cff"/><stop offset="0.955" stop-color="#002cff"/><stop offset="1" stop-color="#0010ff"/></linearGradient><linearGradient id="sB27" gradientUnits="userSpaceOnUse" x1="0" y1="10" x2="0" y2="246"><stop offset="0" stop-color="#8a0000"/><stop offset="0.0455" stop-color="#8a0000"/><stop offset="0.0909" stop-color="#900000"/><stop offset="0.136" stop-color="#9c0000"/><stop offset="0.182" stop-color="#af0000"/><stop offset="0.227" stop-color="#d60000"/><stop offset="0.273" stop-color="#fe0000"/><stop offset="0.318" stop-color="#ff2b00"/><stop offset="0.364" stop-color="#ff6100"/><stop offset="0.409" stop-color="#ffa400"/><stop offset="0.455" stop-color="#ffdd00"/><stop offset="0.5" stop-color="#e9ff16"/><stop offset="0.545" stop-color="#b2ff4d"/><stop offset="0.591" stop-color="#6dff92"/><stop offset="0.636" stop-color="#2fffd0"/><stop offset="0.682" stop-color="#00fcff"/><stop offset="0.727" stop-color="#00d7ff"/><stop offset="0.773" stop-color="#00b2ff"/><stop offset="0.818" stop-color="#0090ff"/><stop offset="0.864" stop-color="#0072ff"/><stop offset="0.909" stop-color="#0052ff"/><stop offset="0.955" stop-color="#0032ff"/><stop offset="1" stop-color="#0015ff"/></linearGradient><linearGradient id="sB28" gradientUnits="userSpaceOnUse" x1="0" y1="10" x2="0" y2="246"><stop offset="0" stop-color="#8a0000"/><stop offset="0.0455" stop-color="#8a0000"/><stop offset="0.0909" stop-color="#8b0000"/><stop offset="0.136" stop-color="#950000"/><stop offset="0.182" stop-color="#a80000"/><stop offset="0.227" stop-color="#ce0000"/><stop offset="0.273" stop-color="#f60000"/><stop offset="0.318" stop-color="#ff2300"/><stop offset="0.364" stop-color="#ff5a00"/><stop offset="0.409" stop-color="#ff9e00"/><stop offset="0.455" stop-color="#ffd700"/><stop offset="0.5" stop-color="#f1ff0e"/><stop offset="0.545" stop-color="#baff45"/><stop offset="0.591" stop-color="#73ff8c"/><stop offset="0.636" stop-color="#35ffca"/><stop offset="0.682" stop-color="#03fffc"/><stop offset="0.727" stop-color="#00ddff"/><stop offset="0.773" stop-color="#00b9ff"/><stop offset="0.818" stop-color="#0097ff"/><stop offset="0.864" stop-color="#0079ff"/><stop offset="0.909" stop-color="#0059ff"/><stop offset="0.955" stop-color="#0038ff"/><stop offset="1" stop-color="#001aff"/></linearGradient><linearGradient id="sB29" gradientUnits="userSpaceOnUse" x1="0" y1="10" x2="0" y2="246"><stop offset="0" stop-color="#8a0000"/><stop offset="0.0455" stop-color="#8a0000"/><stop offset="0.0909" stop-color="#8a0000"/><stop offset="0.136" stop-color="#8f0000"/><stop offset="0.182" stop-color="#a00000"/><stop offset="0.227" stop-color="#c60000"/><stop offset="0.273" stop-color="#ee0000"/><stop offset="0.318" stop-color="#ff1b00"/><stop offset="0.364" stop-color="#ff5200"/><stop offset="0.409" stop-color="#ff9800"/><stop offset="0.455" stop-color="#ffd100"/><stop offset="0.5" stop-color="#f8ff07"/><stop offset="0.545" stop-color="#c1ff3e"/><stop offset="0.591" stop-color="#79ff86"/><stop offset="0.636" stop-color="#3affc5"/><stop offset="0.682" stop-color="#08fff7"/><stop offset="0.727" stop-color="#00e3ff"/><stop offset="0.773" stop-color="#00c0ff"/><stop offset="0.818" stop-color="#009dff"/><stop offset="0.864" stop-color="#0080ff"/><stop offset="0.909" stop-color="#005fff"/><stop offset="0.955" stop-color="#003eff"/><stop offset="1" stop-color="#001fff"/></linearGradient><linearGradient id="sB30" gradientUnits="userSpaceOnUse" x1="0" y1="10" x2="0" y2="246"><stop offset="0" stop-color="#8a0000"/><stop offset="0.0455" stop-color="#8a0000"/><stop offset="0.0909" stop-color="#8a0000"/><stop offset="0.136" stop-color="#8a0000"/><stop offset="0.182" stop-color="#980000"/><stop offset="0.227" stop-color="#be0000"/><stop offset="0.273" stop-color="#e60000"/><stop offset="0.318" stop-color="#ff1300"/><stop offset="0.364" stop-color="#ff4b00"/><stop offset="0.409" stop-color="#ff9200"/><stop offset="0.455" stop-color="#ffcb00"/><stop offset="0.5" stop-color="#ffff00"/><stop offset="0.545" stop-color="#c9ff36"/><stop offset="0.591" stop-color="#80ff7f"/><stop offset="0.636" stop-color="#40ffbf"/><stop offset="0.682" stop-color="#0dfff2"/><stop offset="0.727" stop-color="#00e9ff"/><stop offset="0.773" stop-color="#00c6ff"/><stop offset="0.818" stop-color="#00a4ff"/><stop offset="0.864" stop-color="#0087ff"/><stop offset="0.909" stop-color="#0066ff"/><stop offset="0.955" stop-color="#0044ff"/><stop offset="1" stop-color="#0025ff"/></linearGradient><linearGradient id="sB31" gradientUnits="userSpaceOnUse" x1="0" y1="10" x2="0" y2="246"><stop offset="0" stop-color="#8a0000"/><stop offset="0.0455" stop-color="#8a0000"/><stop offset="0.0909" stop-color="#8a0000"/><stop offset="0.136" stop-color="#8a0000"/><stop offset="0.182" stop-color="#900000"/><stop offset="0.227" stop-color="#b60000"/><stop offset="0.273" stop-color="#de0000"/><stop offset="0.318" stop-color="#ff0b00"/><stop offset="0.364" stop-color="#ff4300"/><stop offset="0.409" stop-color="#ff8b00"/><stop offset="0.455" stop-color="#ffc500"/><stop offset="0.5" stop-color="#fff700"/><stop offset="0.545" stop-color="#d1ff2e"/><stop offset="0.591" stop-color="#86ff79"/><stop offset="0.636" stop-color="#45ffba"/><stop offset="0.682" stop-color="#13ffec"/><stop offset="0.727" stop-color="#00efff"/><stop offset="0.773" stop-color="#00cdff"/><stop offset="0.818" stop-color="#00abff"/><stop offset="0.864" stop-color="#008eff"/><stop offset="0.909" stop-color="#006cff"/><stop offset="0.955" stop-color="#0049ff"/><stop offset="1" stop-color="#002aff"/></linearGradient><linearGradient id="sB32" gradientUnits="userSpaceOnUse" x1="0" y1="10" x2="0" y2="246"><stop offset="0" stop-color="#8a0000"/><stop offset="0.0455" stop-color="#8a0000"/><stop offset="0.0909" stop-color="#8a0000"/><stop offset="0.136" stop-color="#8a0000"/><stop offset="0.182" stop-color="#8a0000"/><stop offset="0.227" stop-color="#ae0000"/><stop offset="0.273" stop-color="#d60000"/><stop offset="0.318" stop-color="#ff0300"/><stop offset="0.364" stop-color="#ff3c00"/><stop offset="0.409" stop-color="#ff8500"/><stop offset="0.455" stop-color="#ffbf00"/><stop offset="0.5" stop-color="#fff000"/><stop offset="0.545" stop-color="#d8ff27"/><stop offset="0.591" stop-color="#8dff72"/><stop offset="0.636" stop-color="#4bffb4"/><stop offset="0.682" stop-color="#18ffe7"/><stop offset="0.727" stop-color="#00f5ff"/><stop offset="0.773" stop-color="#00d3ff"/><stop offset="0.818" stop-color="#00b2ff"/><stop offset="0.864" stop-color="#0095ff"/><stop offset="0.909" stop-color="#0073ff"/><stop offset="0.955" stop-color="#004fff"/><stop offset="1" stop-color="#002fff"/></linearGradient><linearGradient id="sB33" gradientUnits="userSpaceOnUse" x1="0" y1="10" x2="0" y2="246"><stop offset="0" stop-color="#8a0000"/><stop offset="0.0455" stop-color="#8a0000"/><stop offset="0.0909" stop-color="#8a0000"/><stop offset="0.136" stop-color="#8a0000"/><stop offset="0.182" stop-color="#8a0000"/><stop offset="0.227" stop-color="#a60000"/><stop offset="0.273" stop-color="#cd0000"/><stop offset="0.318" stop-color="#f90000"/><stop offset="0.364" stop-color="#ff3400"/><stop offset="0.409" stop-color="#ff7f00"/><stop offset="0.455" stop-color="#ffba00"/><stop offset="0.5" stop-color="#ffe900"/><stop offset="0.545" stop-color="#e0ff1f"/><stop offset="0.591" stop-color="#93ff6c"/><stop offset="0.636" stop-color="#51ffae"/><stop offset="0.682" stop-color="#1dffe2"/><stop offset="0.727" stop-color="#00fbff"/><stop offset="0.773" stop-color="#00daff"/><stop offset="0.818" stop-color="#00b8ff"/><stop offset="0.864" stop-color="#009cff"/><stop offset="0.909" stop-color="#0079ff"/><stop offset="0.955" stop-color="#0055ff"/><stop offset="1" stop-color="#0034ff"/></linearGradient><linearGradient id="sB34" gradientUnits="userSpaceOnUse" x1="0" y1="10" x2="0" y2="246"><stop offset="0" stop-color="#8a0000"/><stop offset="0.0455" stop-color="#8a0000"/><stop offset="0.0909" stop-color="#8a0000"/><stop offset="0.136" stop-color="#8a0000"/><stop offset="0.182" stop-color="#8a0000"/><stop offset="0.227" stop-color="#9e0000"/><stop offset="0.273" stop-color="#c50000"/><stop offset="0.318" stop-color="#f10000"/><stop offset="0.364" stop-color="#ff2d00"/><stop offset="0.409" stop-color="#ff7900"/><stop offset="0.455" stop-color="#ffb400"/><stop offset="0.5" stop-color="#ffe100"/><stop offset="0.545" stop-color="#e7ff18"/><stop offset="0.591" stop-color="#9aff65"/><stop offset="0.636" stop-color="#56ffa9"/><stop offset="0.682" stop-color="#22ffdd"/><stop offset="0.727" stop-color="#02fffd"/><stop offset="0.773" stop-color="#00e1ff"/><stop offset="0.818" stop-color="#00bfff"/><stop offset="0.864" stop-color="#00a3ff"/><stop offset="0.909" stop-color="#0080ff"/><stop offset="0.955" stop-color="#005bff"/><stop offset="1" stop-color="#003aff"/></linearGradient><linearGradient id="sB35" gradientUnits="userSpaceOnUse" x1="0" y1="10" x2="0" y2="246"><stop offset="0" stop-color="#8a0000"/><stop offset="0.0455" stop-color="#8a0000"/><stop offset="0.0909" stop-color="#8a0000"/><stop offset="0.136" stop-color="#8a0000"/><stop offset="0.182" stop-color="#8a0000"/><stop offset="0.227" stop-color="#970000"/><stop offset="0.273" stop-color="#be0000"/><stop offset="0.318" stop-color="#ea0000"/><stop offset="0.364" stop-color="#ff2600"/><stop offset="0.409" stop-color="#ff7300"/><stop offset="0.455" stop-color="#ffaf00"/><stop offset="0.5" stop-color="#ffdb00"/><stop offset="0.545" stop-color="#eeff11"/><stop offset="0.591" stop-color="#a0ff5f"/><stop offset="0.636" stop-color="#5bffa4"/><stop offset="0.682" stop-color="#27ffd8"/><stop offset="0.727" stop-color="#07fff8"/><stop offset="0.773" stop-color="#00e6ff"/><stop offset="0.818" stop-color="#00c5ff"/><stop offset="0.864" stop-color="#00a9ff"/><stop offset="0.909" stop-color="#0085ff"/><stop offset="0.955" stop-color="#0060ff"/><stop offset="1" stop-color="#003eff"/></linearGradient><linearGradient id="sB36" gradientUnits="userSpaceOnUse" x1="0" y1="10" x2="0" y2="246"><stop offset="0" stop-color="#8a0000"/><stop offset="0.0455" stop-color="#8a0000"/><stop offset="0.0909" stop-color="#8a0000"/><stop offset="0.136" stop-color="#8a0000"/><stop offset="0.182" stop-color="#8a0000"/><stop offset="0.227" stop-color="#970000"/><stop offset="0.273" stop-color="#be0000"/><stop offset="0.318" stop-color="#ea0000"/><stop offset="0.364" stop-color="#ff2600"/><stop offset="0.409" stop-color="#ff7300"/><stop offset="0.455" stop-color="#ffaf00"/><stop offset="0.5" stop-color="#ffdb00"/><stop offset="0.545" stop-color="#eeff11"/><stop offset="0.591" stop-color="#a0ff5f"/><stop offset="0.636" stop-color="#5bffa4"/><stop offset="0.682" stop-color="#27ffd8"/><stop offset="0.727" stop-color="#07fff8"/><stop offset="0.773" stop-color="#00e6ff"/><stop offset="0.818" stop-color="#00c5ff"/><stop offset="0.864" stop-color="#00a9ff"/><stop offset="0.909" stop-color="#0085ff"/><stop offset="0.955" stop-color="#0060ff"/><stop offset="1" stop-color="#003eff"/></linearGradient><linearGradient id="sB37" gradientUnits="userSpaceOnUse" x1="0" y1="10" x2="0" y2="246"><stop offset="0" stop-color="#8a0000"/><stop offset="0.0455" stop-color="#8a0000"/><stop offset="0.0909" stop-color="#8a0000"/><stop offset="0.136" stop-color="#8a0000"/><stop offset="0.182" stop-color="#8a0000"/><stop offset="0.227" stop-color="#970000"/><stop offset="0.273" stop-color="#be0000"/><stop offset="0.318" stop-color="#ea0000"/><stop offset="0.364" stop-color="#ff2600"/><stop offset="0.409" stop-color="#ff7300"/><stop offset="0.455" stop-color="#ffaf00"/><stop offset="0.5" stop-color="#ffdb00"/><stop offset="0.545" stop-color="#eeff11"/><stop offset="0.591" stop-color="#a0ff5f"/><stop offset="0.636" stop-color="#5bffa4"/><stop offset="0.682" stop-color="#27ffd8"/><stop offset="0.727" stop-color="#07fff8"/><stop offset="0.773" stop-color="#00e6ff"/><stop offset="0.818" stop-color="#00c5ff"/><stop offset="0.864" stop-color="#00a9ff"/><stop offset="0.909" stop-color="#0085ff"/><stop offset="0.955" stop-color="#0060ff"/><stop offset="1" stop-color="#003eff"/></linearGradient><linearGradient id="sB38" gradientUnits="userSpaceOnUse" x1="0" y1="10" x2="0" y2="246"><stop offset="0" stop-color="#8a0000"/><stop offset="0.0455" stop-color="#8a0000"/><stop offset="0.0909" stop-color="#8a0000"/><stop offset="0.136" stop-color="#8a0000"/><stop offset="0.182" stop-color="#8a0000"/><stop offset="0.227" stop-color="#970000"/><stop offset="0.273" stop-color="#be0000"/><stop offset="0.318" stop-color="#ea0000"/><stop offset="0.364" stop-color="#ff2600"/><stop offset="0.409" stop-color="#ff7300"/><stop offset="0.455" stop-color="#ffaf00"/><stop offset="0.5" stop-color="#ffdb00"/><stop offset="0.545" stop-color="#eeff11"/><stop offset="0.591" stop-color="#a0ff5f"/><stop offset="0.636" stop-color="#5bffa4"/><stop offset="0.682" stop-color="#27ffd8"/><stop offset="0.727" stop-color="#07fff8"/><stop offset="0.773" stop-color="#00e6ff"/><stop offset="0.818" stop-color="#00c5ff"/><stop offset="0.864" stop-color="#00a9ff"/><stop offset="0.909" stop-color="#0085ff"/><stop offset="0.955" stop-color="#0060ff"/><stop offset="1" stop-color="#003eff"/></linearGradient><linearGradient id="sB39" gradientUnits="userSpaceOnUse" x1="0" y1="10" x2="0" y2="246"><stop offset="0" stop-color="#8a0000"/><stop offset="0.0455" stop-color="#8a0000"/><stop offset="0.0909" stop-color="#8a0000"/><stop offset="0.136" stop-color="#8a0000"/><stop offset="0.182" stop-color="#8a0000"/><stop offset="0.227" stop-color="#970000"/><stop offset="0.273" stop-color="#be0000"/><stop offset="0.318" stop-color="#ea0000"/><stop offset="0.364" stop-color="#ff2600"/><stop offset="0.409" stop-color="#ff7300"/><stop offset="0.455" stop-color="#ffaf00"/><stop offset="0.5" stop-color="#ffdb00"/><stop offset="0.545" stop-color="#eeff11"/><stop offset="0.591" stop-color="#a0ff5f"/><stop offset="0.636" stop-color="#5bffa4"/><stop offset="0.682" stop-color="#27ffd8"/><stop offset="0.727" stop-color="#07fff8"/><stop offset="0.773" stop-color="#00e6ff"/><stop offset="0.818" stop-color="#00c5ff"/><stop offset="0.864" stop-color="#00a9ff"/><stop offset="0.909" stop-color="#0085ff"/><stop offset="0.955" stop-color="#0060ff"/><stop offset="1" stop-color="#003eff"/></linearGradient></defs><g clip-path="url(#cB)" opacity="0.370"><rect x="418" y="10" width="8" height="236" fill="url(#sB0)"/><rect x="426" y="10" width="8" height="236" fill="url(#sB1)"/><rect x="434" y="10" width="8" height="236" fill="url(#sB2)"/><rect x="442" y="10" width="8" height="236" fill="url(#sB3)"/><rect x="450" y="10" width="8" height="236" fill="url(#sB4)"/><rect x="458" y="10" width="8" height="236" fill="url(#sB5)"/><rect x="466" y="10" width="8" height="236" fill="url(#sB6)"/><rect x="474" y="10" width="8" height="236" fill="url(#sB7)"/><rect x="482" y="10" width="8" height="236" fill="url(#sB8)"/><rect x="490" y="10" width="8" height="236" fill="url(#sB9)"/><rect x="498" y="10" width="8" height="236" fill="url(#sB10)"/><rect x="506" y="10" width="8" height="236" fill="url(#sB11)"/><rect x="514" y="10" width="8" height="236" fill="url(#sB12)"/><rect x="522" y="10" width="8" height="236" fill="url(#sB13)"/><rect x="530" y="10" width="8" height="236" fill="url(#sB14)"/><rect x="538" y="10" width="8" height="236" fill="url(#sB15)"/><rect x="546" y="10" width="8" height="236" fill="url(#sB16)"/><rect x="554" y="10" width="8" height="236" fill="url(#sB17)"/><rect x="562" y="10" width="8" height="236" fill="url(#sB18)"/><rect x="570" y="10" width="8" height="236" fill="url(#sB19)"/><rect x="578" y="10" width="8" height="236" fill="url(#sB20)"/><rect x="586" y="10" width="8" height="236" fill="url(#sB21)"/><rect x="594" y="10" width="8" height="236" fill="url(#sB22)"/><rect x="602" y="10" width="8" height="236" fill="url(#sB23)"/><rect x="610" y="10" width="8" height="236" fill="url(#sB24)"/><rect x="618" y="10" width="8" height="236" fill="url(#sB25)"/><rect x="626" y="10" width="8" height="236" fill="url(#sB26)"/><rect x="634" y="10" width="8" height="236" fill="url(#sB27)"/><rect x="642" y="10" width="8" height="236" fill="url(#sB28)"/><rect x="650" y="10" width="8" height="236" fill="url(#sB29)"/><rect x="658" y="10" width="8" height="236" fill="url(#sB30)"/><rect x="666" y="10" width="8" height="236" fill="url(#sB31)"/><rect x="674" y="10" width="8" height="236" fill="url(#sB32)"/><rect x="682" y="10" width="8" height="236" fill="url(#sB33)"/><rect x="690" y="10" width="8" height="236" fill="url(#sB34)"/><rect x="698" y="10" width="8" height="236" fill="url(#sB35)"/><rect x="706" y="10" width="8" height="236" fill="url(#sB36)"/><rect x="714" y="10" width="8" height="236" fill="url(#sB37)"/><rect x="722" y="10" width="8" height="236" fill="url(#sB38)"/><rect x="730" y="10" width="8" height="236" fill="url(#sB39)"/></g>
<g clip-path="url(#cB)" stroke="#e27a3c" stroke-width="1" stroke-dasharray="4 2.6" stroke-opacity="0.80" fill="none">
<polyline points="474.8,250.3 479.8,233.5 484.8,216.7 489.8,199.9 494.8,183.3 499.8,166.9 504.8,150.7 509.8,134.8 514.8,119.3 519.8,104.4 524.8,90.2 529.8,77.0 534.8,65.0 539.8,54.2 544.8,45.0 549.8,37.2 554.8,31.0 559.8,26.0 564.8,22.2 569.8,19.4 574.8,17.3 579.8,15.8 584.8,14.7 589.8,13.9 594.8,13.3 599.8,12.9 604.8,12.7"/>
<polyline points="484.8,250.3 489.8,233.5 494.8,216.7 499.8,199.9 504.8,183.3 509.8,166.9 514.8,150.7 519.8,134.8 524.8,119.3 529.8,104.4 534.8,90.2 539.8,77.0 544.8,65.0 549.8,54.2 554.8,45.0 559.8,37.2 564.8,31.0 569.8,26.0 574.8,22.2 579.8,19.4 584.8,17.3 589.8,15.8 594.8,14.7 599.8,13.9 604.8,13.3 609.8,12.9 614.8,12.7"/>
<polyline points="492.8,250.3 497.8,233.5 502.8,216.7 507.8,199.9 512.8,183.3 517.8,166.9 522.8,150.7 527.8,134.8 532.8,119.3 537.8,104.4 542.8,90.2 547.8,77.0 552.8,65.0 557.8,54.2 562.8,45.0 567.8,37.2 572.8,31.0 577.8,26.0 582.8,22.2 587.8,19.4 592.8,17.3 597.8,15.8 602.8,14.7 607.8,13.9 612.8,13.3 617.8,12.9 622.8,12.7"/>
<polyline points="506.8,250.3 511.8,233.5 516.8,216.7 521.8,199.9 526.8,183.3 531.8,166.9 536.8,150.7 541.8,134.8 546.8,119.3 551.8,104.4 556.8,90.2 561.8,77.0 566.8,65.0 571.8,54.2 576.8,45.0 581.8,37.2 586.8,31.0 591.8,26.0 596.8,22.2 601.8,19.4 606.8,17.3 611.8,15.8 616.8,14.7 621.8,13.9 626.8,13.3 631.8,12.9 636.8,12.7"/>
<polyline points="524.8,250.3 529.8,233.5 534.8,216.7 539.8,199.9 544.8,183.3 549.8,166.9 554.8,150.7 559.8,134.8 564.8,119.3 569.8,104.4 574.8,90.2 579.8,77.0 584.8,65.0 589.8,54.2 594.8,45.0 599.8,37.2 604.8,31.0 609.8,26.0 614.8,22.2 619.8,19.4 624.8,17.3 629.8,15.8 634.8,14.7 639.8,13.9 644.8,13.3 649.8,12.9 654.8,12.7"/>
<polyline points="535.8,250.3 540.8,233.5 545.8,216.7 550.8,199.9 555.8,183.3 560.8,166.9 565.8,150.7 570.8,134.8 575.8,119.3 580.8,104.4 585.8,90.2 590.8,77.0 595.8,65.0 600.8,54.2 605.8,45.0 610.8,37.2 615.8,31.0 620.8,26.0 625.8,22.2 630.8,19.4 635.8,17.3 640.8,15.8 645.8,14.7 650.8,13.9 655.8,13.3 660.8,12.9 665.8,12.7"/>
<polyline points="543.8,250.3 548.8,233.5 553.8,216.7 558.8,199.9 563.8,183.3 568.8,166.9 573.8,150.7 578.8,134.8 583.8,119.3 588.8,104.4 593.8,90.2 598.8,77.0 603.8,65.0 608.8,54.2 613.8,45.0 618.8,37.2 623.8,31.0 628.8,26.0 633.8,22.2 638.8,19.4 643.8,17.3 648.8,15.8 653.8,14.7 658.8,13.9 663.8,13.3 668.8,12.9 673.8,12.7"/>
<polyline points="555.8,250.3 560.8,233.5 565.8,216.7 570.8,199.9 575.8,183.3 580.8,166.9 585.8,150.7 590.8,134.8 595.8,119.3 600.8,104.4 605.8,90.2 610.8,77.0 615.8,65.0 620.8,54.2 625.8,45.0 630.8,37.2 635.8,31.0 640.8,26.0 645.8,22.2 650.8,19.4 655.8,17.3 660.8,15.8 665.8,14.7 670.8,13.9 675.8,13.3 680.8,12.9 685.8,12.7"/>
<polyline points="567.8,250.3 572.8,233.5 577.8,216.7 582.8,199.9 587.8,183.3 592.8,166.9 597.8,150.7 602.8,134.8 607.8,119.3 612.8,104.4 617.8,90.2 622.8,77.0 627.8,65.0 632.8,54.2 637.8,45.0 642.8,37.2 647.8,31.0 652.8,26.0 657.8,22.2 662.8,19.4 667.8,17.3 672.8,15.8 677.8,14.7 682.8,13.9 687.8,13.3 692.8,12.9 697.8,12.7"/>
<polyline points="575.8,250.3 580.8,233.5 585.8,216.7 590.8,199.9 595.8,183.3 600.8,166.9 605.8,150.7 610.8,134.8 615.8,119.3 620.8,104.4 625.8,90.2 630.8,77.0 635.8,65.0 640.8,54.2 645.8,45.0 650.8,37.2 655.8,31.0 660.8,26.0 665.8,22.2 670.8,19.4 675.8,17.3 680.8,15.8 685.8,14.7 690.8,13.9 695.8,13.3 700.8,12.9 705.8,12.7"/>
<polyline points="647.8,69.6 650.6,63.2 653.3,57.2 656.1,51.7 658.9,46.6 661.6,42.0 664.4,37.8 667.2,34.1 670.0,30.8 672.7,27.9 675.5,25.4 678.3,23.3 681.0,21.4 683.8,19.9 686.6,18.6 689.3,17.4 692.1,16.5 694.9,15.7 697.6,15.1 700.4,14.5 703.2,14.1 706.0,13.7 708.7,13.4 711.5,13.2 714.3,13.0 717.0,12.8 719.8,12.7"/>
<polyline points="669.8,69.6 672.6,63.2 675.3,57.2 678.1,51.7 680.9,46.6 683.6,42.0 686.4,37.8 689.2,34.1 692.0,30.8 694.7,27.9 697.5,25.4 700.3,23.3 703.0,21.4 705.8,19.9 708.6,18.6 711.3,17.4 714.1,16.5 716.9,15.7 719.6,15.1 722.4,14.5 725.2,14.1 728.0,13.7 730.7,13.4 733.5,13.2 736.3,13.0 739.0,12.8 741.8,12.7"/>
<polyline points="690.8,69.6 693.6,63.2 696.3,57.2 699.1,51.7 701.9,46.6 704.6,42.0 707.4,37.8 710.2,34.1 713.0,30.8 715.7,27.9 718.5,25.4 721.3,23.3 724.0,21.4 726.8,19.9 729.6,18.6 732.3,17.4 735.1,16.5 737.9,15.7 740.6,15.1 743.4,14.5 746.2,14.1 749.0,13.7 751.7,13.4 754.5,13.2 757.3,13.0 760.0,12.8 762.8,12.7"/>
</g>
<polyline points="486.0,38.7 678.0,75.2" fill="none" stroke="#6a6a4a" stroke-width="0.9" stroke-dasharray="1 1.6" stroke-opacity="0.8"/>
<polyline points="486.0,59.0 676.0,97.0" fill="none" stroke="#6a6a4a" stroke-width="0.9" stroke-dasharray="1 1.6" stroke-opacity="0.8"/>
<polyline points="486.2,48.5 675.0,86.5" fill="none" stroke="#356a48" stroke-width="1.6" stroke-dasharray="5.5 3.5"/>
<rect x="579.2" y="16.3" width="4.6" height="4.6" fill="#fffaf2" stroke="#f0a878" stroke-width="0.8"/>
<rect x="577.7" y="21.5" width="4.6" height="4.6" fill="#fffaf2" stroke="#f0a878" stroke-width="0.8"/>
<rect x="570.0" y="27.7" width="4.6" height="4.6" fill="#fffaf2" stroke="#f0a878" stroke-width="0.8"/>
<rect x="588.5" y="14.5" width="4.6" height="4.6" fill="#fffaf2" stroke="#f0a878" stroke-width="0.8"/>
<rect x="528.5" y="39.1" width="4.6" height="4.6" fill="#fffaf2" stroke="#f0a878" stroke-width="0.8"/>
<rect x="558.3" y="37.9" width="4.6" height="4.6" fill="#fffaf2" stroke="#f0a878" stroke-width="0.8"/>
<rect x="561.4" y="38.5" width="4.6" height="4.6" fill="#fffaf2" stroke="#f0a878" stroke-width="0.8"/>
<rect x="556.2" y="47.7" width="4.6" height="4.6" fill="#fffaf2" stroke="#f0a878" stroke-width="0.8"/>
<rect x="571.5" y="47.7" width="4.6" height="4.6" fill="#fffaf2" stroke="#f0a878" stroke-width="0.8"/>
<rect x="482.3" y="72.3" width="4.6" height="4.6" fill="#fffaf2" stroke="#f0a878" stroke-width="0.8"/>
<rect x="526.3" y="80.0" width="4.6" height="4.6" fill="#fffaf2" stroke="#f0a878" stroke-width="0.8"/>
<rect x="541.7" y="80.0" width="4.6" height="4.6" fill="#fffaf2" stroke="#f0a878" stroke-width="0.8"/>
<rect x="559.2" y="76.0" width="4.6" height="4.6" fill="#fffaf2" stroke="#f0a878" stroke-width="0.8"/>
<rect x="477.7" y="81.7" width="4.6" height="4.6" fill="#fffaf2" stroke="#f0a878" stroke-width="0.8"/>
<rect x="607.7" y="13.2" width="4.6" height="4.6" fill="#fffaf2" stroke="#f0a878" stroke-width="0.8"/>
<rect x="632.3" y="25.2" width="4.6" height="4.6" fill="#fffaf2" stroke="#f0a878" stroke-width="0.8"/>
<rect x="652.3" y="26.2" width="4.6" height="4.6" fill="#fffaf2" stroke="#f0a878" stroke-width="0.8"/>
<rect x="656.9" y="21.5" width="4.6" height="4.6" fill="#fffaf2" stroke="#f0a878" stroke-width="0.8"/>
<rect x="660.0" y="29.2" width="4.6" height="4.6" fill="#fffaf2" stroke="#f0a878" stroke-width="0.8"/>
<rect x="675.4" y="23.1" width="4.6" height="4.6" fill="#fffaf2" stroke="#f0a878" stroke-width="0.8"/>
<rect x="681.5" y="18.5" width="4.6" height="4.6" fill="#fffaf2" stroke="#f0a878" stroke-width="0.8"/>
<rect x="627.1" y="36.9" width="4.6" height="4.6" fill="#fffaf2" stroke="#f0a878" stroke-width="0.8"/>
<rect x="630.8" y="46.2" width="4.6" height="4.6" fill="#fffaf2" stroke="#f0a878" stroke-width="0.8"/>
<rect x="633.9" y="43.1" width="4.6" height="4.6" fill="#fffaf2" stroke="#f0a878" stroke-width="0.8"/>
<rect x="605.5" y="47.1" width="4.6" height="4.6" fill="#fffaf2" stroke="#f0a878" stroke-width="0.8"/>
<rect x="616.9" y="56.3" width="4.6" height="4.6" fill="#fffaf2" stroke="#f0a878" stroke-width="0.8"/>
<rect x="621.5" y="58.5" width="4.6" height="4.6" fill="#fffaf2" stroke="#f0a878" stroke-width="0.8"/>
<rect x="624.6" y="55.4" width="4.6" height="4.6" fill="#fffaf2" stroke="#f0a878" stroke-width="0.8"/>
<rect x="601.5" y="57.5" width="4.6" height="4.6" fill="#fffaf2" stroke="#f0a878" stroke-width="0.8"/>
<rect x="601.5" y="83.1" width="4.6" height="4.6" fill="#fffaf2" stroke="#f0a878" stroke-width="0.8"/>
<rect x="606.2" y="81.5" width="4.6" height="4.6" fill="#fffaf2" stroke="#f0a878" stroke-width="0.8"/>
<rect x="612.3" y="86.2" width="4.6" height="4.6" fill="#fffaf2" stroke="#f0a878" stroke-width="0.8"/>
<rect x="618.5" y="84.6" width="4.6" height="4.6" fill="#fffaf2" stroke="#f0a878" stroke-width="0.8"/>
<rect x="537.7" y="89.2" width="4.6" height="4.6" fill="#fffaf2" stroke="#f0a878" stroke-width="0.8"/>
<rect x="534.6" y="95.4" width="4.6" height="4.6" fill="#fffaf2" stroke="#f0a878" stroke-width="0.8"/>
<rect x="550.0" y="95.4" width="4.6" height="4.6" fill="#fffaf2" stroke="#f0a878" stroke-width="0.8"/>
<rect x="542.3" y="100.0" width="4.6" height="4.6" fill="#fffaf2" stroke="#f0a878" stroke-width="0.8"/>
<rect x="529.4" y="103.7" width="4.6" height="4.6" fill="#fffaf2" stroke="#f0a878" stroke-width="0.8"/>
<rect x="546.9" y="106.8" width="4.6" height="4.6" fill="#fffaf2" stroke="#f0a878" stroke-width="0.8"/>
<rect x="524.5" y="113.9" width="4.6" height="4.6" fill="#fffaf2" stroke="#f0a878" stroke-width="0.8"/>
<rect x="572.5" y="113.9" width="4.6" height="4.6" fill="#fffaf2" stroke="#f0a878" stroke-width="0.8"/>
<rect x="580.8" y="111.7" width="4.6" height="4.6" fill="#fffaf2" stroke="#f0a878" stroke-width="0.8"/>
<rect x="577.7" y="122.2" width="4.6" height="4.6" fill="#fffaf2" stroke="#f0a878" stroke-width="0.8"/>
<rect x="559.2" y="124.6" width="4.6" height="4.6" fill="#fffaf2" stroke="#f0a878" stroke-width="0.8"/>
<rect x="579.2" y="127.1" width="4.6" height="4.6" fill="#fffaf2" stroke="#f0a878" stroke-width="0.8"/>
<rect x="574.6" y="132.3" width="4.6" height="4.6" fill="#fffaf2" stroke="#f0a878" stroke-width="0.8"/>
<rect x="537.7" y="138.5" width="4.6" height="4.6" fill="#fffaf2" stroke="#f0a878" stroke-width="0.8"/>
<rect x="585.4" y="141.5" width="4.6" height="4.6" fill="#fffaf2" stroke="#f0a878" stroke-width="0.8"/>
<rect x="596.2" y="146.2" width="4.6" height="4.6" fill="#fffaf2" stroke="#f0a878" stroke-width="0.8"/>
<rect x="506.0" y="169.2" width="4.6" height="4.6" fill="#fffaf2" stroke="#f0a878" stroke-width="0.8"/>
<rect x="590.8" y="89.5" width="4.6" height="4.6" fill="#fffaf2" stroke="#f0a878" stroke-width="0.8"/>
<rect x="607.1" y="84.2" width="4.6" height="4.6" fill="#fffaf2" stroke="#f0a878" stroke-width="0.8"/>
<rect x="616.3" y="85.8" width="4.6" height="4.6" fill="#fffaf2" stroke="#f0a878" stroke-width="0.8"/>
<rect x="600.0" y="94.4" width="4.6" height="4.6" fill="#fffaf2" stroke="#f0a878" stroke-width="0.8"/>
<rect x="612.3" y="95.0" width="4.6" height="4.6" fill="#fffaf2" stroke="#f0a878" stroke-width="0.8"/>
<rect x="620.6" y="92.5" width="4.6" height="4.6" fill="#fffaf2" stroke="#f0a878" stroke-width="0.8"/>
<rect x="607.7" y="104.2" width="4.6" height="4.6" fill="#fffaf2" stroke="#f0a878" stroke-width="0.8"/>
<rect x="615.4" y="103.6" width="4.6" height="4.6" fill="#fffaf2" stroke="#f0a878" stroke-width="0.8"/>
<rect x="605.2" y="115.9" width="4.6" height="4.6" fill="#fffaf2" stroke="#f0a878" stroke-width="0.8"/>
<rect x="612.3" y="122.7" width="4.6" height="4.6" fill="#fffaf2" stroke="#f0a878" stroke-width="0.8"/>
<rect x="598.5" y="135.6" width="4.6" height="4.6" fill="#fffaf2" stroke="#f0a878" stroke-width="0.8"/>
<rect x="595.4" y="155.0" width="4.6" height="4.6" fill="#fffaf2" stroke="#f0a878" stroke-width="0.8"/>
<rect x="522.3" y="207.3" width="4.6" height="4.6" fill="#fffaf2" stroke="#f0a878" stroke-width="0.8"/>
<rect x="589.7" y="191.0" width="4.6" height="4.6" fill="#fffaf2" stroke="#f0a878" stroke-width="0.8"/>
<rect x="540.7" y="198.5" width="4.6" height="4.6" fill="#fffaf2" stroke="#f0a878" stroke-width="0.8"/>
<rect x="579.9" y="215.7" width="4.6" height="4.6" fill="#fffaf2" stroke="#f0a878" stroke-width="0.8"/>
<rect x="550.5" y="232.7" width="4.6" height="4.6" fill="#fffaf2" stroke="#f0a878" stroke-width="0.8"/>
<rect x="539.1" y="238.6" width="4.6" height="4.6" fill="#fffaf2" stroke="#f0a878" stroke-width="0.8"/>
<rect x="512.4" y="21.4" width="4.8" height="4.8" rx="1" fill="#ec6c2c" stroke="#e06a30" stroke-width="0.6"/>
<rect x="577.6" y="34.7" width="4.8" height="4.8" rx="1" fill="#ec6c2c" stroke="#e06a30" stroke-width="0.6"/>
<rect x="514.5" y="64.5" width="4.8" height="4.8" rx="1" fill="#ec6c2c" stroke="#e06a30" stroke-width="0.6"/>
<rect x="508.4" y="83.9" width="4.8" height="4.8" rx="1" fill="#ec6c2c" stroke="#e06a30" stroke-width="0.6"/>
<rect x="599.9" y="14.4" width="4.8" height="4.8" rx="1" fill="#ec6c2c" stroke="#e06a30" stroke-width="0.6"/>
<rect x="618.4" y="11.3" width="4.8" height="4.8" rx="1" fill="#ec6c2c" stroke="#e06a30" stroke-width="0.6"/>
<rect x="635.3" y="10.7" width="4.8" height="4.8" rx="1" fill="#ec6c2c" stroke="#e06a30" stroke-width="0.6"/>
<rect x="646.1" y="37.8" width="4.8" height="4.8" rx="1" fill="#ec6c2c" stroke="#e06a30" stroke-width="0.6"/>
<rect x="656.8" y="35.3" width="4.8" height="4.8" rx="1" fill="#ec6c2c" stroke="#e06a30" stroke-width="0.6"/>
<rect x="679.9" y="25.4" width="4.8" height="4.8" rx="1" fill="#ec6c2c" stroke="#e06a30" stroke-width="0.6"/>
<rect x="696.8" y="20.5" width="4.8" height="4.8" rx="1" fill="#ec6c2c" stroke="#e06a30" stroke-width="0.6"/>
<rect x="703.9" y="15.3" width="4.8" height="4.8" rx="1" fill="#ec6c2c" stroke="#e06a30" stroke-width="0.6"/>
<rect x="522.2" y="96.2" width="4.8" height="4.8" rx="1" fill="#ec6c2c" stroke="#e06a30" stroke-width="0.6"/>
<rect x="499.1" y="148.5" width="4.8" height="4.8" rx="1" fill="#ec6c2c" stroke="#e06a30" stroke-width="0.6"/>
<rect x="586.8" y="151.6" width="4.8" height="4.8" rx="1" fill="#ec6c2c" stroke="#e06a30" stroke-width="0.6"/>
<rect x="591.4" y="158.4" width="4.8" height="4.8" rx="1" fill="#ec6c2c" stroke="#e06a30" stroke-width="0.6"/>
<rect x="603.9" y="139.5" width="4.8" height="4.8" rx="1" fill="#ec6c2c" stroke="#e06a30" stroke-width="0.6"/>
<rect x="512.4" y="176.4" width="4.8" height="4.8" rx="1" fill="#ec6c2c" stroke="#e06a30" stroke-width="0.6"/>
<rect x="496.1" y="214.3" width="4.8" height="4.8" rx="1" fill="#ec6c2c" stroke="#e06a30" stroke-width="0.6"/>
<rect x="453.0" y="221.7" width="4.8" height="4.8" rx="1" fill="#ec6c2c" stroke="#e06a30" stroke-width="0.6"/>
<rect x="463.8" y="231.8" width="4.8" height="4.8" rx="1" fill="#ec6c2c" stroke="#e06a30" stroke-width="0.6"/>
<rect x="486.8" y="232.8" width="4.8" height="4.8" rx="1" fill="#ec6c2c" stroke="#e06a30" stroke-width="0.6"/>
<rect x="491.4" y="240.1" width="4.8" height="4.8" rx="1" fill="#ec6c2c" stroke="#e06a30" stroke-width="0.6"/>
<rect x="474.5" y="242.0" width="4.8" height="4.8" rx="1" fill="#ec6c2c" stroke="#e06a30" stroke-width="0.6"/>
<rect x="522.2" y="240.1" width="4.8" height="4.8" rx="1" fill="#ec6c2c" stroke="#e06a30" stroke-width="0.6"/>
<rect x="542.3" y="212.4" width="4.8" height="4.8" rx="1" fill="#ec6c2c" stroke="#e06a30" stroke-width="0.6"/>
<rect x="544.6" y="225.4" width="4.8" height="4.8" rx="1" fill="#ec6c2c" stroke="#e06a30" stroke-width="0.6"/>
<rect x="560.2" y="222.2" width="4.8" height="4.8" rx="1" fill="#ec6c2c" stroke="#e06a30" stroke-width="0.6"/>
<rect x="498.3" y="38.2" width="5.2" height="5.2" fill="#ee0a0a" stroke="#d00000" stroke-width="0.4"/>
<rect x="525.1" y="47.4" width="5.2" height="5.2" fill="#ee0a0a" stroke="#d00000" stroke-width="0.4"/>
<rect x="520.5" y="52.0" width="5.2" height="5.2" fill="#ee0a0a" stroke="#d00000" stroke-width="0.4"/>
<rect x="540.5" y="45.9" width="5.2" height="5.2" fill="#ee0a0a" stroke="#d00000" stroke-width="0.4"/>
<rect x="546.6" y="48.9" width="5.2" height="5.2" fill="#ee0a0a" stroke="#d00000" stroke-width="0.4"/>
<rect x="538.9" y="53.6" width="5.2" height="5.2" fill="#ee0a0a" stroke="#d00000" stroke-width="0.4"/>
<rect x="549.7" y="53.6" width="5.2" height="5.2" fill="#ee0a0a" stroke="#d00000" stroke-width="0.4"/>
<rect x="551.2" y="56.6" width="5.2" height="5.2" fill="#ee0a0a" stroke="#d00000" stroke-width="0.4"/>
<rect x="558.9" y="55.1" width="5.2" height="5.2" fill="#ee0a0a" stroke="#d00000" stroke-width="0.4"/>
<rect x="566.6" y="52.0" width="5.2" height="5.2" fill="#ee0a0a" stroke="#d00000" stroke-width="0.4"/>
<rect x="563.6" y="65.9" width="5.2" height="5.2" fill="#ee0a0a" stroke="#d00000" stroke-width="0.4"/>
<rect x="545.7" y="68.9" width="5.2" height="5.2" fill="#ee0a0a" stroke="#d00000" stroke-width="0.4"/>
<rect x="577.4" y="68.9" width="5.2" height="5.2" fill="#ee0a0a" stroke="#d00000" stroke-width="0.4"/>
<rect x="594.3" y="78.2" width="5.2" height="5.2" fill="#ee0a0a" stroke="#d00000" stroke-width="0.4"/>
<rect x="595.2" y="70.4" width="5.2" height="5.2" fill="#ee0a0a" stroke="#d00000" stroke-width="0.4"/>
<rect x="588.9" y="65.2" width="5.2" height="5.2" fill="#ee0a0a" stroke="#d00000" stroke-width="0.4"/>
<rect x="611.4" y="67.4" width="5.2" height="5.2" fill="#ee0a0a" stroke="#d00000" stroke-width="0.4"/>
<rect x="618.2" y="68.9" width="5.2" height="5.2" fill="#ee0a0a" stroke="#d00000" stroke-width="0.4"/>
<rect x="620.6" y="65.9" width="5.2" height="5.2" fill="#ee0a0a" stroke="#d00000" stroke-width="0.4"/>
<rect x="621.2" y="70.4" width="5.2" height="5.2" fill="#ee0a0a" stroke="#d00000" stroke-width="0.4"/>
<rect x="627.4" y="65.2" width="5.2" height="5.2" fill="#ee0a0a" stroke="#d00000" stroke-width="0.4"/>
<rect x="626.8" y="72.0" width="5.2" height="5.2" fill="#ee0a0a" stroke="#d00000" stroke-width="0.4"/>
<rect x="632.9" y="71.4" width="5.2" height="5.2" fill="#ee0a0a" stroke="#d00000" stroke-width="0.4"/>
<rect x="605.9" y="78.8" width="5.2" height="5.2" fill="#ee0a0a" stroke="#d00000" stroke-width="0.4"/>
<rect x="615.1" y="77.6" width="5.2" height="5.2" fill="#ee0a0a" stroke="#d00000" stroke-width="0.4"/>
<rect x="621.9" y="79.7" width="5.2" height="5.2" fill="#ee0a0a" stroke="#d00000" stroke-width="0.4"/>
<rect x="622.8" y="84.3" width="5.2" height="5.2" fill="#ee0a0a" stroke="#d00000" stroke-width="0.4"/>
<line x1="485.5" y1="208.0" x2="485.5" y2="8.0" stroke="#111" stroke-width="1.6" stroke-dasharray="4.5 3.5"/>
<line x1="485.5" y1="208.0" x2="739.8" y2="217.0" stroke="#111" stroke-width="1.6" stroke-dasharray="4.5 3.5"/>
<line x1="441.8" y1="230.1" x2="485.5" y2="208.0" stroke="#111" stroke-width="1.6" stroke-dasharray="4.5 3.5"/>
<line x1="420.7" y1="241.1" x2="583.5" y2="246.8" stroke="#111" stroke-width="1.6" stroke-dasharray="4.5 3.5"/>
<line x1="418.2" y1="242.0" x2="418.2" y2="42.0" stroke="#555" stroke-width="1.3"/>
<line x1="418.2" y1="242.0" x2="672.5" y2="251.0" stroke="#4a4a4a" stroke-width="1"/>
<line x1="672.5" y1="251.0" x2="739.8" y2="217.0" stroke="#4a4a4a" stroke-width="1"/>
<line x1="411.7" y1="222.0" x2="418.2" y2="222.0" stroke="#4a4a4a" stroke-width="1"/>
<text x="409.7" y="225.0" text-anchor="end" class="tk">0.1</text>
<line x1="411.7" y1="202.0" x2="418.2" y2="202.0" stroke="#4a4a4a" stroke-width="1"/>
<text x="409.7" y="205.0" text-anchor="end" class="tk">0.2</text>
<line x1="411.7" y1="182.0" x2="418.2" y2="182.0" stroke="#4a4a4a" stroke-width="1"/>
<text x="409.7" y="185.0" text-anchor="end" class="tk">0.3</text>
<line x1="411.7" y1="162.0" x2="418.2" y2="162.0" stroke="#4a4a4a" stroke-width="1"/>
<text x="409.7" y="165.0" text-anchor="end" class="tk">0.4</text>
<line x1="411.7" y1="142.0" x2="418.2" y2="142.0" stroke="#4a4a4a" stroke-width="1"/>
<text x="409.7" y="145.0" text-anchor="end" class="tk">0.5</text>
<line x1="411.7" y1="122.0" x2="418.2" y2="122.0" stroke="#4a4a4a" stroke-width="1"/>
<text x="409.7" y="125.0" text-anchor="end" class="tk">0.6</text>
<line x1="411.7" y1="102.0" x2="418.2" y2="102.0" stroke="#4a4a4a" stroke-width="1"/>
<text x="409.7" y="105.0" text-anchor="end" class="tk">0.7</text>
<line x1="411.7" y1="82.0" x2="418.2" y2="82.0" stroke="#4a4a4a" stroke-width="1"/>
<text x="409.7" y="85.0" text-anchor="end" class="tk">0.8</text>
<line x1="411.7" y1="62.0" x2="418.2" y2="62.0" stroke="#4a4a4a" stroke-width="1"/>
<text x="409.7" y="65.0" text-anchor="end" class="tk">0.9</text>
<line x1="418.2" y1="242.0" x2="413.2" y2="244.5" stroke="#4a4a4a" stroke-width="1"/>
<text transform="translate(412.6,253.6) scale(0.86,1)" text-anchor="end" class="tk">1</text>
<line x1="454.3" y1="243.3" x2="449.3" y2="245.8" stroke="#4a4a4a" stroke-width="1"/>
<text transform="translate(448.7,254.9) scale(0.86,1)" text-anchor="end" class="tk">0.9</text>
<line x1="490.4" y1="244.6" x2="485.4" y2="247.1" stroke="#4a4a4a" stroke-width="1"/>
<text transform="translate(484.8,256.2) scale(0.86,1)" text-anchor="end" class="tk">0.8</text>
<line x1="526.5" y1="245.8" x2="521.5" y2="248.3" stroke="#4a4a4a" stroke-width="1"/>
<text transform="translate(520.9,257.4) scale(0.86,1)" text-anchor="end" class="tk">0.7</text>
<line x1="562.6" y1="247.1" x2="557.6" y2="249.6" stroke="#4a4a4a" stroke-width="1"/>
<text transform="translate(557.0,258.7) scale(0.86,1)" text-anchor="end" class="tk">0.6</text>
<line x1="598.7" y1="248.4" x2="593.7" y2="250.9" stroke="#4a4a4a" stroke-width="1"/>
<text transform="translate(593.1,260.0) scale(0.86,1)" text-anchor="end" class="tk">0.5</text>
<line x1="634.8" y1="249.7" x2="629.8" y2="252.2" stroke="#4a4a4a" stroke-width="1"/>
<text transform="translate(629.2,261.3) scale(0.86,1)" text-anchor="end" class="tk">0.4</text>
<line x1="670.9" y1="250.9" x2="665.9" y2="253.4" stroke="#4a4a4a" stroke-width="1"/>
<text transform="translate(665.3,262.5) scale(0.86,1)" text-anchor="end" class="tk">0.3</text>
<line x1="672.5" y1="251.0" x2="678.0" y2="251.0" stroke="#4a4a4a" stroke-width="1"/>
<text transform="translate(680.5,260.0) scale(0.86,1)" class="tk">0.1</text>
<line x1="689.1" y1="242.6" x2="694.6" y2="242.6" stroke="#4a4a4a" stroke-width="1"/>
<text transform="translate(697.1,251.6) scale(0.86,1)" class="tk">0.15</text>
<line x1="705.6" y1="234.3" x2="711.1" y2="234.3" stroke="#4a4a4a" stroke-width="1"/>
<text transform="translate(713.6,243.3) scale(0.86,1)" class="tk">0.2</text>
<line x1="722.2" y1="225.9" x2="727.7" y2="225.9" stroke="#4a4a4a" stroke-width="1"/>
<text transform="translate(730.2,234.9) scale(0.86,1)" class="tk">0.25</text>
<text x="0.3" y="17.6" style="font-family:'Liberation Sans',sans-serif;font-size:23.5px;fill:#111">A</text>
<text x="382" y="17.6" style="font-family:'Liberation Sans',sans-serif;font-size:23.5px;fill:#111">B</text>
<text transform="translate(11.4,143.5) rotate(-90)" text-anchor="middle" style="font-family:'Liberation Sans',sans-serif;font-size:10.3px;font-weight:bold;fill:#111">Probability</text>
<text transform="translate(392.4,143.5) rotate(-90)" text-anchor="middle" style="font-family:'Liberation Sans',sans-serif;font-size:10.3px;font-weight:bold;fill:#111">Probability</text>
<text x="160.3" y="272.5" style="font-family:'Liberation Serif',serif;font-style:italic;font-size:14px;fill:#222">k<tspan font-size="9.5" dy="1.8" font-style="normal">2</tspan></text>
<text x="332.0" y="259.8" style="font-family:'Liberation Serif',serif;font-style:italic;font-size:14px;fill:#222">k<tspan font-size="9.0" dy="1.3" font-style="normal">1</tspan></text>
<text x="540.7" y="272.5" style="font-family:'Liberation Serif',serif;font-style:italic;font-size:14px;fill:#222">k<tspan font-size="9.5" dy="1.8" font-style="normal">2</tspan></text>
<text x="715.0" y="256.0" style="font-family:'Liberation Serif',serif;font-style:italic;font-size:14px;fill:#222">k<tspan font-size="9.0" dy="1.5" font-style="normal">1</tspan></text>
<defs><linearGradient id="cb" x1="0" y1="0" x2="0" y2="1"><stop offset="0.000" stop-color="#d0a1a1"/><stop offset="0.025" stop-color="#d9a1a1"/><stop offset="0.050" stop-color="#e3a1a1"/><stop offset="0.075" stop-color="#eca1a1"/><stop offset="0.100" stop-color="#f6a1a1"/><stop offset="0.125" stop-color="#ffa1a1"/><stop offset="0.150" stop-color="#ffaaa1"/><stop offset="0.175" stop-color="#ffb4a1"/><stop offset="0.200" stop-color="#ffbda1"/><stop offset="0.225" stop-color="#ffc6a1"/><stop offset="0.250" stop-color="#ffd0a1"/><stop offset="0.275" stop-color="#ffd9a1"/><stop offset="0.300" stop-color="#ffe3a1"/><stop offset="0.325" stop-color="#ffeca1"/><stop offset="0.350" stop-color="#fff6a1"/><stop offset="0.375" stop-color="#ffffa1"/><stop offset="0.400" stop-color="#f6ffaa"/><stop offset="0.425" stop-color="#ecffb4"/><stop offset="0.450" stop-color="#e3ffbd"/><stop offset="0.475" stop-color="#d9ffc6"/><stop offset="0.500" stop-color="#d0ffd0"/><stop offset="0.525" stop-color="#c6ffd9"/><stop offset="0.550" stop-color="#bdffe3"/><stop offset="0.575" stop-color="#b4ffec"/><stop offset="0.600" stop-color="#aafff6"/><stop offset="0.625" stop-color="#a1ffff"/><stop offset="0.650" stop-color="#a1f6ff"/><stop offset="0.675" stop-color="#a1ecff"/><stop offset="0.700" stop-color="#a1e3ff"/><stop offset="0.725" stop-color="#a1d9ff"/><stop offset="0.750" stop-color="#a1d0ff"/><stop offset="0.775" stop-color="#a1c6ff"/><stop offset="0.800" stop-color="#a1bdff"/><stop offset="0.825" stop-color="#a1b4ff"/><stop offset="0.850" stop-color="#a1aaff"/><stop offset="0.875" stop-color="#a1a1ff"/><stop offset="0.900" stop-color="#a1a1f6"/><stop offset="0.925" stop-color="#a1a1ec"/><stop offset="0.950" stop-color="#a1a1e3"/><stop offset="0.975" stop-color="#a1a1d9"/><stop offset="1.000" stop-color="#a1a1d0"/></linearGradient></defs>
<rect x="751" y="7.4" width="15.3" height="243.4" fill="url(#cb)" stroke="#555" stroke-width="1"/>
<line x1="751.0" y1="226.5" x2="754.0" y2="226.5" stroke="#4a4a4a" stroke-width="1"/>
<line x1="763.3" y1="226.5" x2="766.3" y2="226.5" stroke="#4a4a4a" stroke-width="1"/>
<text x="766.2" y="229.5" class="tk">0.1</text>
<line x1="751.0" y1="202.1" x2="754.0" y2="202.1" stroke="#4a4a4a" stroke-width="1"/>
<line x1="763.3" y1="202.1" x2="766.3" y2="202.1" stroke="#4a4a4a" stroke-width="1"/>
<text x="766.2" y="205.1" class="tk">0.2</text>
<line x1="751.0" y1="177.8" x2="754.0" y2="177.8" stroke="#4a4a4a" stroke-width="1"/>
<line x1="763.3" y1="177.8" x2="766.3" y2="177.8" stroke="#4a4a4a" stroke-width="1"/>
<text x="766.2" y="180.8" class="tk">0.3</text>
<line x1="751.0" y1="153.4" x2="754.0" y2="153.4" stroke="#4a4a4a" stroke-width="1"/>
<line x1="763.3" y1="153.4" x2="766.3" y2="153.4" stroke="#4a4a4a" stroke-width="1"/>
<text x="766.2" y="156.4" class="tk">0.4</text>
<line x1="751.0" y1="129.1" x2="754.0" y2="129.1" stroke="#4a4a4a" stroke-width="1"/>
<line x1="763.3" y1="129.1" x2="766.3" y2="129.1" stroke="#4a4a4a" stroke-width="1"/>
<text x="766.2" y="132.1" class="tk">0.5</text>
<line x1="751.0" y1="104.8" x2="754.0" y2="104.8" stroke="#4a4a4a" stroke-width="1"/>
<line x1="763.3" y1="104.8" x2="766.3" y2="104.8" stroke="#4a4a4a" stroke-width="1"/>
<text x="766.2" y="107.8" class="tk">0.6</text>
<line x1="751.0" y1="80.4" x2="754.0" y2="80.4" stroke="#4a4a4a" stroke-width="1"/>
<line x1="763.3" y1="80.4" x2="766.3" y2="80.4" stroke="#4a4a4a" stroke-width="1"/>
<text x="766.2" y="83.4" class="tk">0.7</text>
<line x1="751.0" y1="56.1" x2="754.0" y2="56.1" stroke="#4a4a4a" stroke-width="1"/>
<line x1="763.3" y1="56.1" x2="766.3" y2="56.1" stroke="#4a4a4a" stroke-width="1"/>
<text x="766.2" y="59.1" class="tk">0.8</text>
<line x1="751.0" y1="31.7" x2="754.0" y2="31.7" stroke="#4a4a4a" stroke-width="1"/>
<line x1="763.3" y1="31.7" x2="766.3" y2="31.7" stroke="#4a4a4a" stroke-width="1"/>
<text x="766.2" y="34.7" class="tk">0.9</text>
</svg></body></html>
